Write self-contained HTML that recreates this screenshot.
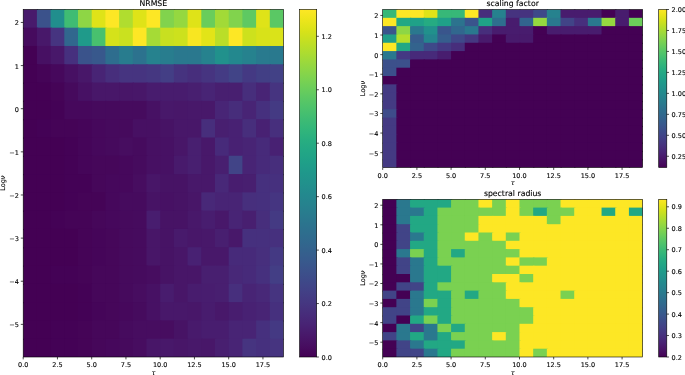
<!DOCTYPE html>
<html><head><meta charset="utf-8"><title>figure</title>
<style>
html,body{margin:0;padding:0;background:#fff;}
svg{display:block;font-family:"DejaVu Sans","Liberation Sans",sans-serif;fill:#000;}
text{stroke:#000;stroke-width:0.12px;}
</style></head><body>
<svg width="685" height="375" viewBox="0 0 685 375">
<rect width="685" height="375" fill="#fff"/>
<g clip-path="none"><rect x="23.20" y="9.40" width="14.90" height="19.49" fill="#481a6c"/><rect x="36.90" y="9.40" width="14.90" height="19.49" fill="#3b528b"/><rect x="50.60" y="9.40" width="14.90" height="19.49" fill="#218e8d"/><rect x="64.30" y="9.40" width="14.90" height="19.49" fill="#3fbc73"/><rect x="78.00" y="9.40" width="14.90" height="19.49" fill="#8ed645"/><rect x="91.70" y="9.40" width="14.90" height="19.49" fill="#dfe318"/><rect x="105.40" y="9.40" width="14.90" height="19.49" fill="#fde725"/><rect x="119.10" y="9.40" width="14.90" height="19.49" fill="#b0dd2f"/><rect x="132.80" y="9.40" width="14.90" height="19.49" fill="#dfe318"/><rect x="146.50" y="9.40" width="14.90" height="19.49" fill="#fde725"/><rect x="160.20" y="9.40" width="14.90" height="19.49" fill="#81d34d"/><rect x="173.90" y="9.40" width="14.90" height="19.49" fill="#95d840"/><rect x="187.60" y="9.40" width="14.90" height="19.49" fill="#dfe318"/><rect x="201.30" y="9.40" width="14.90" height="19.49" fill="#69cd5b"/><rect x="215.00" y="9.40" width="14.90" height="19.49" fill="#a2da37"/><rect x="228.70" y="9.40" width="14.90" height="19.49" fill="#81d34d"/><rect x="242.40" y="9.40" width="14.90" height="19.49" fill="#5ec962"/><rect x="256.10" y="9.40" width="14.90" height="19.49" fill="#dfe318"/><rect x="269.80" y="9.40" width="13.70" height="19.49" fill="#5ac864"/><rect x="23.20" y="27.69" width="14.90" height="19.49" fill="#460b5e"/><rect x="36.90" y="27.69" width="14.90" height="19.49" fill="#48186a"/><rect x="50.60" y="27.69" width="14.90" height="19.49" fill="#463480"/><rect x="64.30" y="27.69" width="14.90" height="19.49" fill="#31678e"/><rect x="78.00" y="27.69" width="14.90" height="19.49" fill="#1f9a8a"/><rect x="91.70" y="27.69" width="14.90" height="19.49" fill="#48c16e"/><rect x="105.40" y="27.69" width="14.90" height="19.49" fill="#d5e21a"/><rect x="119.10" y="27.69" width="14.90" height="19.49" fill="#cae11f"/><rect x="132.80" y="27.69" width="14.90" height="19.49" fill="#fde725"/><rect x="146.50" y="27.69" width="14.90" height="19.49" fill="#a5db36"/><rect x="160.20" y="27.69" width="14.90" height="19.49" fill="#c8e020"/><rect x="173.90" y="27.69" width="14.90" height="19.49" fill="#cde11d"/><rect x="187.60" y="27.69" width="14.90" height="19.49" fill="#f8e621"/><rect x="201.30" y="27.69" width="14.90" height="19.49" fill="#e2e418"/><rect x="215.00" y="27.69" width="14.90" height="19.49" fill="#bade28"/><rect x="228.70" y="27.69" width="14.90" height="19.49" fill="#fde725"/><rect x="242.40" y="27.69" width="14.90" height="19.49" fill="#cde11d"/><rect x="256.10" y="27.69" width="14.90" height="19.49" fill="#d8e219"/><rect x="269.80" y="27.69" width="13.70" height="19.49" fill="#dae319"/><rect x="23.20" y="45.99" width="14.90" height="19.49" fill="#440154"/><rect x="36.90" y="45.99" width="14.90" height="19.49" fill="#471063"/><rect x="50.60" y="45.99" width="14.90" height="19.49" fill="#48186a"/><rect x="64.30" y="45.99" width="14.90" height="19.49" fill="#46307e"/><rect x="78.00" y="45.99" width="14.90" height="19.49" fill="#3a538b"/><rect x="91.70" y="45.99" width="14.90" height="19.49" fill="#38588c"/><rect x="105.40" y="45.99" width="14.90" height="19.49" fill="#2e6d8e"/><rect x="119.10" y="45.99" width="14.90" height="19.49" fill="#287c8e"/><rect x="132.80" y="45.99" width="14.90" height="19.49" fill="#2c728e"/><rect x="146.50" y="45.99" width="14.90" height="19.49" fill="#26828e"/><rect x="160.20" y="45.99" width="14.90" height="19.49" fill="#287d8e"/><rect x="173.90" y="45.99" width="14.90" height="19.49" fill="#2a788e"/><rect x="187.60" y="45.99" width="14.90" height="19.49" fill="#2a788e"/><rect x="201.30" y="45.99" width="14.90" height="19.49" fill="#26828e"/><rect x="215.00" y="45.99" width="14.90" height="19.49" fill="#21918c"/><rect x="228.70" y="45.99" width="14.90" height="19.49" fill="#23888e"/><rect x="242.40" y="45.99" width="14.90" height="19.49" fill="#26828e"/><rect x="256.10" y="45.99" width="14.90" height="19.49" fill="#297a8e"/><rect x="269.80" y="45.99" width="13.70" height="19.49" fill="#29798e"/><rect x="23.20" y="64.28" width="14.90" height="19.49" fill="#440154"/><rect x="36.90" y="64.28" width="14.90" height="19.49" fill="#450457"/><rect x="50.60" y="64.28" width="14.90" height="19.49" fill="#46085c"/><rect x="64.30" y="64.28" width="14.90" height="19.49" fill="#471063"/><rect x="78.00" y="64.28" width="14.90" height="19.49" fill="#481769"/><rect x="91.70" y="64.28" width="14.90" height="19.49" fill="#482475"/><rect x="105.40" y="64.28" width="14.90" height="19.49" fill="#472e7c"/><rect x="119.10" y="64.28" width="14.90" height="19.49" fill="#463480"/><rect x="132.80" y="64.28" width="14.90" height="19.49" fill="#463480"/><rect x="146.50" y="64.28" width="14.90" height="19.49" fill="#453781"/><rect x="160.20" y="64.28" width="14.90" height="19.49" fill="#433e85"/><rect x="173.90" y="64.28" width="14.90" height="19.49" fill="#46337f"/><rect x="187.60" y="64.28" width="14.90" height="19.49" fill="#472e7c"/><rect x="201.30" y="64.28" width="14.90" height="19.49" fill="#463480"/><rect x="215.00" y="64.28" width="14.90" height="19.49" fill="#443b84"/><rect x="228.70" y="64.28" width="14.90" height="19.49" fill="#414487"/><rect x="242.40" y="64.28" width="14.90" height="19.49" fill="#443983"/><rect x="256.10" y="64.28" width="14.90" height="19.49" fill="#423f85"/><rect x="269.80" y="64.28" width="13.70" height="19.49" fill="#424186"/><rect x="23.20" y="82.58" width="14.90" height="19.49" fill="#440154"/><rect x="36.90" y="82.58" width="14.90" height="19.49" fill="#440154"/><rect x="50.60" y="82.58" width="14.90" height="19.49" fill="#450457"/><rect x="64.30" y="82.58" width="14.90" height="19.49" fill="#460a5d"/><rect x="78.00" y="82.58" width="14.90" height="19.49" fill="#471164"/><rect x="91.70" y="82.58" width="14.90" height="19.49" fill="#481769"/><rect x="105.40" y="82.58" width="14.90" height="19.49" fill="#481769"/><rect x="119.10" y="82.58" width="14.90" height="19.49" fill="#481668"/><rect x="132.80" y="82.58" width="14.90" height="19.49" fill="#481769"/><rect x="146.50" y="82.58" width="14.90" height="19.49" fill="#481c6e"/><rect x="160.20" y="82.58" width="14.90" height="19.49" fill="#481c6e"/><rect x="173.90" y="82.58" width="14.90" height="19.49" fill="#481c6e"/><rect x="187.60" y="82.58" width="14.90" height="19.49" fill="#481f70"/><rect x="201.30" y="82.58" width="14.90" height="19.49" fill="#482475"/><rect x="215.00" y="82.58" width="14.90" height="19.49" fill="#481f70"/><rect x="228.70" y="82.58" width="14.90" height="19.49" fill="#481f70"/><rect x="242.40" y="82.58" width="14.90" height="19.49" fill="#472e7c"/><rect x="256.10" y="82.58" width="14.90" height="19.49" fill="#482475"/><rect x="269.80" y="82.58" width="13.70" height="19.49" fill="#463480"/><rect x="23.20" y="100.87" width="14.90" height="19.49" fill="#440154"/><rect x="36.90" y="100.87" width="14.90" height="19.49" fill="#440154"/><rect x="50.60" y="100.87" width="14.90" height="19.49" fill="#440256"/><rect x="64.30" y="100.87" width="14.90" height="19.49" fill="#46085c"/><rect x="78.00" y="100.87" width="14.90" height="19.49" fill="#46085c"/><rect x="91.70" y="100.87" width="14.90" height="19.49" fill="#460a5d"/><rect x="105.40" y="100.87" width="14.90" height="19.49" fill="#460a5d"/><rect x="119.10" y="100.87" width="14.90" height="19.49" fill="#460b5e"/><rect x="132.80" y="100.87" width="14.90" height="19.49" fill="#460b5e"/><rect x="146.50" y="100.87" width="14.90" height="19.49" fill="#471164"/><rect x="160.20" y="100.87" width="14.90" height="19.49" fill="#48186a"/><rect x="173.90" y="100.87" width="14.90" height="19.49" fill="#481769"/><rect x="187.60" y="100.87" width="14.90" height="19.49" fill="#48186a"/><rect x="201.30" y="100.87" width="14.90" height="19.49" fill="#48186a"/><rect x="215.00" y="100.87" width="14.90" height="19.49" fill="#482576"/><rect x="228.70" y="100.87" width="14.90" height="19.49" fill="#472d7b"/><rect x="242.40" y="100.87" width="14.90" height="19.49" fill="#482475"/><rect x="256.10" y="100.87" width="14.90" height="19.49" fill="#46307e"/><rect x="269.80" y="100.87" width="13.70" height="19.49" fill="#443a83"/><rect x="23.20" y="119.17" width="14.90" height="19.49" fill="#440154"/><rect x="36.90" y="119.17" width="14.90" height="19.49" fill="#440256"/><rect x="50.60" y="119.17" width="14.90" height="19.49" fill="#450457"/><rect x="64.30" y="119.17" width="14.90" height="19.49" fill="#450457"/><rect x="78.00" y="119.17" width="14.90" height="19.49" fill="#450559"/><rect x="91.70" y="119.17" width="14.90" height="19.49" fill="#46085c"/><rect x="105.40" y="119.17" width="14.90" height="19.49" fill="#460a5d"/><rect x="119.10" y="119.17" width="14.90" height="19.49" fill="#460a5d"/><rect x="132.80" y="119.17" width="14.90" height="19.49" fill="#471063"/><rect x="146.50" y="119.17" width="14.90" height="19.49" fill="#471063"/><rect x="160.20" y="119.17" width="14.90" height="19.49" fill="#471365"/><rect x="173.90" y="119.17" width="14.90" height="19.49" fill="#481769"/><rect x="187.60" y="119.17" width="14.90" height="19.49" fill="#481769"/><rect x="201.30" y="119.17" width="14.90" height="19.49" fill="#472e7c"/><rect x="215.00" y="119.17" width="14.90" height="19.49" fill="#481f70"/><rect x="228.70" y="119.17" width="14.90" height="19.49" fill="#482173"/><rect x="242.40" y="119.17" width="14.90" height="19.49" fill="#472e7c"/><rect x="256.10" y="119.17" width="14.90" height="19.49" fill="#482173"/><rect x="269.80" y="119.17" width="13.70" height="19.49" fill="#472f7d"/><rect x="23.20" y="137.46" width="14.90" height="19.49" fill="#440154"/><rect x="36.90" y="137.46" width="14.90" height="19.49" fill="#440154"/><rect x="50.60" y="137.46" width="14.90" height="19.49" fill="#440154"/><rect x="64.30" y="137.46" width="14.90" height="19.49" fill="#440256"/><rect x="78.00" y="137.46" width="14.90" height="19.49" fill="#450559"/><rect x="91.70" y="137.46" width="14.90" height="19.49" fill="#46085c"/><rect x="105.40" y="137.46" width="14.90" height="19.49" fill="#460a5d"/><rect x="119.10" y="137.46" width="14.90" height="19.49" fill="#470d60"/><rect x="132.80" y="137.46" width="14.90" height="19.49" fill="#460b5e"/><rect x="146.50" y="137.46" width="14.90" height="19.49" fill="#471063"/><rect x="160.20" y="137.46" width="14.90" height="19.49" fill="#471164"/><rect x="173.90" y="137.46" width="14.90" height="19.49" fill="#481668"/><rect x="187.60" y="137.46" width="14.90" height="19.49" fill="#481f70"/><rect x="201.30" y="137.46" width="14.90" height="19.49" fill="#48186a"/><rect x="215.00" y="137.46" width="14.90" height="19.49" fill="#472a7a"/><rect x="228.70" y="137.46" width="14.90" height="19.49" fill="#482173"/><rect x="242.40" y="137.46" width="14.90" height="19.49" fill="#482475"/><rect x="256.10" y="137.46" width="14.90" height="19.49" fill="#472a7a"/><rect x="269.80" y="137.46" width="13.70" height="19.49" fill="#482173"/><rect x="23.20" y="155.76" width="14.90" height="19.49" fill="#440154"/><rect x="36.90" y="155.76" width="14.90" height="19.49" fill="#440154"/><rect x="50.60" y="155.76" width="14.90" height="19.49" fill="#440154"/><rect x="64.30" y="155.76" width="14.90" height="19.49" fill="#440256"/><rect x="78.00" y="155.76" width="14.90" height="19.49" fill="#450559"/><rect x="91.70" y="155.76" width="14.90" height="19.49" fill="#46075a"/><rect x="105.40" y="155.76" width="14.90" height="19.49" fill="#46075a"/><rect x="119.10" y="155.76" width="14.90" height="19.49" fill="#46085c"/><rect x="132.80" y="155.76" width="14.90" height="19.49" fill="#460b5e"/><rect x="146.50" y="155.76" width="14.90" height="19.49" fill="#471063"/><rect x="160.20" y="155.76" width="14.90" height="19.49" fill="#471164"/><rect x="173.90" y="155.76" width="14.90" height="19.49" fill="#481a6c"/><rect x="187.60" y="155.76" width="14.90" height="19.49" fill="#481f70"/><rect x="201.30" y="155.76" width="14.90" height="19.49" fill="#48186a"/><rect x="215.00" y="155.76" width="14.90" height="19.49" fill="#481f70"/><rect x="228.70" y="155.76" width="14.90" height="19.49" fill="#414487"/><rect x="242.40" y="155.76" width="14.90" height="19.49" fill="#482475"/><rect x="256.10" y="155.76" width="14.90" height="19.49" fill="#472a7a"/><rect x="269.80" y="155.76" width="13.70" height="19.49" fill="#472e7c"/><rect x="23.20" y="174.05" width="14.90" height="19.49" fill="#440154"/><rect x="36.90" y="174.05" width="14.90" height="19.49" fill="#440154"/><rect x="50.60" y="174.05" width="14.90" height="19.49" fill="#440154"/><rect x="64.30" y="174.05" width="14.90" height="19.49" fill="#440256"/><rect x="78.00" y="174.05" width="14.90" height="19.49" fill="#440256"/><rect x="91.70" y="174.05" width="14.90" height="19.49" fill="#46075a"/><rect x="105.40" y="174.05" width="14.90" height="19.49" fill="#46085c"/><rect x="119.10" y="174.05" width="14.90" height="19.49" fill="#46085c"/><rect x="132.80" y="174.05" width="14.90" height="19.49" fill="#470d60"/><rect x="146.50" y="174.05" width="14.90" height="19.49" fill="#481668"/><rect x="160.20" y="174.05" width="14.90" height="19.49" fill="#471365"/><rect x="173.90" y="174.05" width="14.90" height="19.49" fill="#471365"/><rect x="187.60" y="174.05" width="14.90" height="19.49" fill="#48186a"/><rect x="201.30" y="174.05" width="14.90" height="19.49" fill="#48186a"/><rect x="215.00" y="174.05" width="14.90" height="19.49" fill="#482878"/><rect x="228.70" y="174.05" width="14.90" height="19.49" fill="#481d6f"/><rect x="242.40" y="174.05" width="14.90" height="19.49" fill="#481f70"/><rect x="256.10" y="174.05" width="14.90" height="19.49" fill="#46307e"/><rect x="269.80" y="174.05" width="13.70" height="19.49" fill="#46307e"/><rect x="23.20" y="192.35" width="14.90" height="19.49" fill="#440154"/><rect x="36.90" y="192.35" width="14.90" height="19.49" fill="#440154"/><rect x="50.60" y="192.35" width="14.90" height="19.49" fill="#440154"/><rect x="64.30" y="192.35" width="14.90" height="19.49" fill="#440256"/><rect x="78.00" y="192.35" width="14.90" height="19.49" fill="#450457"/><rect x="91.70" y="192.35" width="14.90" height="19.49" fill="#450457"/><rect x="105.40" y="192.35" width="14.90" height="19.49" fill="#46085c"/><rect x="119.10" y="192.35" width="14.90" height="19.49" fill="#460b5e"/><rect x="132.80" y="192.35" width="14.90" height="19.49" fill="#460b5e"/><rect x="146.50" y="192.35" width="14.90" height="19.49" fill="#471365"/><rect x="160.20" y="192.35" width="14.90" height="19.49" fill="#471164"/><rect x="173.90" y="192.35" width="14.90" height="19.49" fill="#471365"/><rect x="187.60" y="192.35" width="14.90" height="19.49" fill="#481668"/><rect x="201.30" y="192.35" width="14.90" height="19.49" fill="#482878"/><rect x="215.00" y="192.35" width="14.90" height="19.49" fill="#482475"/><rect x="228.70" y="192.35" width="14.90" height="19.49" fill="#482475"/><rect x="242.40" y="192.35" width="14.90" height="19.49" fill="#472f7d"/><rect x="256.10" y="192.35" width="14.90" height="19.49" fill="#46307e"/><rect x="269.80" y="192.35" width="13.70" height="19.49" fill="#453581"/><rect x="23.20" y="210.64" width="14.90" height="19.49" fill="#440154"/><rect x="36.90" y="210.64" width="14.90" height="19.49" fill="#440154"/><rect x="50.60" y="210.64" width="14.90" height="19.49" fill="#440256"/><rect x="64.30" y="210.64" width="14.90" height="19.49" fill="#450457"/><rect x="78.00" y="210.64" width="14.90" height="19.49" fill="#450457"/><rect x="91.70" y="210.64" width="14.90" height="19.49" fill="#46075a"/><rect x="105.40" y="210.64" width="14.90" height="19.49" fill="#46085c"/><rect x="119.10" y="210.64" width="14.90" height="19.49" fill="#460a5d"/><rect x="132.80" y="210.64" width="14.90" height="19.49" fill="#460b5e"/><rect x="146.50" y="210.64" width="14.90" height="19.49" fill="#481d6f"/><rect x="160.20" y="210.64" width="14.90" height="19.49" fill="#471365"/><rect x="173.90" y="210.64" width="14.90" height="19.49" fill="#471365"/><rect x="187.60" y="210.64" width="14.90" height="19.49" fill="#48186a"/><rect x="201.30" y="210.64" width="14.90" height="19.49" fill="#481d6f"/><rect x="215.00" y="210.64" width="14.90" height="19.49" fill="#48186a"/><rect x="228.70" y="210.64" width="14.90" height="19.49" fill="#482475"/><rect x="242.40" y="210.64" width="14.90" height="19.49" fill="#481f70"/><rect x="256.10" y="210.64" width="14.90" height="19.49" fill="#472e7c"/><rect x="269.80" y="210.64" width="13.70" height="19.49" fill="#443a83"/><rect x="23.20" y="228.94" width="14.90" height="19.49" fill="#440154"/><rect x="36.90" y="228.94" width="14.90" height="19.49" fill="#440154"/><rect x="50.60" y="228.94" width="14.90" height="19.49" fill="#440154"/><rect x="64.30" y="228.94" width="14.90" height="19.49" fill="#440154"/><rect x="78.00" y="228.94" width="14.90" height="19.49" fill="#450457"/><rect x="91.70" y="228.94" width="14.90" height="19.49" fill="#450559"/><rect x="105.40" y="228.94" width="14.90" height="19.49" fill="#46075a"/><rect x="119.10" y="228.94" width="14.90" height="19.49" fill="#460a5d"/><rect x="132.80" y="228.94" width="14.90" height="19.49" fill="#460b5e"/><rect x="146.50" y="228.94" width="14.90" height="19.49" fill="#481668"/><rect x="160.20" y="228.94" width="14.90" height="19.49" fill="#471365"/><rect x="173.90" y="228.94" width="14.90" height="19.49" fill="#481a6c"/><rect x="187.60" y="228.94" width="14.90" height="19.49" fill="#481769"/><rect x="201.30" y="228.94" width="14.90" height="19.49" fill="#48186a"/><rect x="215.00" y="228.94" width="14.90" height="19.49" fill="#481f70"/><rect x="228.70" y="228.94" width="14.90" height="19.49" fill="#48186a"/><rect x="242.40" y="228.94" width="14.90" height="19.49" fill="#46307e"/><rect x="256.10" y="228.94" width="14.90" height="19.49" fill="#46307e"/><rect x="269.80" y="228.94" width="13.70" height="19.49" fill="#46307e"/><rect x="23.20" y="247.23" width="14.90" height="19.49" fill="#440154"/><rect x="36.90" y="247.23" width="14.90" height="19.49" fill="#440154"/><rect x="50.60" y="247.23" width="14.90" height="19.49" fill="#440154"/><rect x="64.30" y="247.23" width="14.90" height="19.49" fill="#440154"/><rect x="78.00" y="247.23" width="14.90" height="19.49" fill="#450457"/><rect x="91.70" y="247.23" width="14.90" height="19.49" fill="#450559"/><rect x="105.40" y="247.23" width="14.90" height="19.49" fill="#46075a"/><rect x="119.10" y="247.23" width="14.90" height="19.49" fill="#460a5d"/><rect x="132.80" y="247.23" width="14.90" height="19.49" fill="#460b5e"/><rect x="146.50" y="247.23" width="14.90" height="19.49" fill="#481668"/><rect x="160.20" y="247.23" width="14.90" height="19.49" fill="#471365"/><rect x="173.90" y="247.23" width="14.90" height="19.49" fill="#481668"/><rect x="187.60" y="247.23" width="14.90" height="19.49" fill="#482173"/><rect x="201.30" y="247.23" width="14.90" height="19.49" fill="#48186a"/><rect x="215.00" y="247.23" width="14.90" height="19.49" fill="#48186a"/><rect x="228.70" y="247.23" width="14.90" height="19.49" fill="#472a7a"/><rect x="242.40" y="247.23" width="14.90" height="19.49" fill="#472a7a"/><rect x="256.10" y="247.23" width="14.90" height="19.49" fill="#472f7d"/><rect x="269.80" y="247.23" width="13.70" height="19.49" fill="#443983"/><rect x="23.20" y="265.53" width="14.90" height="19.49" fill="#440154"/><rect x="36.90" y="265.53" width="14.90" height="19.49" fill="#440154"/><rect x="50.60" y="265.53" width="14.90" height="19.49" fill="#440256"/><rect x="64.30" y="265.53" width="14.90" height="19.49" fill="#440256"/><rect x="78.00" y="265.53" width="14.90" height="19.49" fill="#450457"/><rect x="91.70" y="265.53" width="14.90" height="19.49" fill="#46075a"/><rect x="105.40" y="265.53" width="14.90" height="19.49" fill="#46075a"/><rect x="119.10" y="265.53" width="14.90" height="19.49" fill="#460a5d"/><rect x="132.80" y="265.53" width="14.90" height="19.49" fill="#460b5e"/><rect x="146.50" y="265.53" width="14.90" height="19.49" fill="#470d60"/><rect x="160.20" y="265.53" width="14.90" height="19.49" fill="#471365"/><rect x="173.90" y="265.53" width="14.90" height="19.49" fill="#481668"/><rect x="187.60" y="265.53" width="14.90" height="19.49" fill="#481668"/><rect x="201.30" y="265.53" width="14.90" height="19.49" fill="#481f70"/><rect x="215.00" y="265.53" width="14.90" height="19.49" fill="#481f70"/><rect x="228.70" y="265.53" width="14.90" height="19.49" fill="#482878"/><rect x="242.40" y="265.53" width="14.90" height="19.49" fill="#472a7a"/><rect x="256.10" y="265.53" width="14.90" height="19.49" fill="#46307e"/><rect x="269.80" y="265.53" width="13.70" height="19.49" fill="#433e85"/><rect x="23.20" y="283.82" width="14.90" height="19.49" fill="#440154"/><rect x="36.90" y="283.82" width="14.90" height="19.49" fill="#440154"/><rect x="50.60" y="283.82" width="14.90" height="19.49" fill="#440154"/><rect x="64.30" y="283.82" width="14.90" height="19.49" fill="#440154"/><rect x="78.00" y="283.82" width="14.90" height="19.49" fill="#440256"/><rect x="91.70" y="283.82" width="14.90" height="19.49" fill="#46075a"/><rect x="105.40" y="283.82" width="14.90" height="19.49" fill="#46075a"/><rect x="119.10" y="283.82" width="14.90" height="19.49" fill="#460a5d"/><rect x="132.80" y="283.82" width="14.90" height="19.49" fill="#470d60"/><rect x="146.50" y="283.82" width="14.90" height="19.49" fill="#471164"/><rect x="160.20" y="283.82" width="14.90" height="19.49" fill="#481c6e"/><rect x="173.90" y="283.82" width="14.90" height="19.49" fill="#481668"/><rect x="187.60" y="283.82" width="14.90" height="19.49" fill="#481c6e"/><rect x="201.30" y="283.82" width="14.90" height="19.49" fill="#481d6f"/><rect x="215.00" y="283.82" width="14.90" height="19.49" fill="#481f70"/><rect x="228.70" y="283.82" width="14.90" height="19.49" fill="#472f7d"/><rect x="242.40" y="283.82" width="14.90" height="19.49" fill="#482475"/><rect x="256.10" y="283.82" width="14.90" height="19.49" fill="#482878"/><rect x="269.80" y="283.82" width="13.70" height="19.49" fill="#463480"/><rect x="23.20" y="302.12" width="14.90" height="19.49" fill="#440154"/><rect x="36.90" y="302.12" width="14.90" height="19.49" fill="#440154"/><rect x="50.60" y="302.12" width="14.90" height="19.49" fill="#440154"/><rect x="64.30" y="302.12" width="14.90" height="19.49" fill="#440154"/><rect x="78.00" y="302.12" width="14.90" height="19.49" fill="#440256"/><rect x="91.70" y="302.12" width="14.90" height="19.49" fill="#450559"/><rect x="105.40" y="302.12" width="14.90" height="19.49" fill="#46075a"/><rect x="119.10" y="302.12" width="14.90" height="19.49" fill="#46085c"/><rect x="132.80" y="302.12" width="14.90" height="19.49" fill="#460b5e"/><rect x="146.50" y="302.12" width="14.90" height="19.49" fill="#471164"/><rect x="160.20" y="302.12" width="14.90" height="19.49" fill="#48186a"/><rect x="173.90" y="302.12" width="14.90" height="19.49" fill="#48186a"/><rect x="187.60" y="302.12" width="14.90" height="19.49" fill="#481769"/><rect x="201.30" y="302.12" width="14.90" height="19.49" fill="#481c6e"/><rect x="215.00" y="302.12" width="14.90" height="19.49" fill="#48186a"/><rect x="228.70" y="302.12" width="14.90" height="19.49" fill="#481d6f"/><rect x="242.40" y="302.12" width="14.90" height="19.49" fill="#482173"/><rect x="256.10" y="302.12" width="14.90" height="19.49" fill="#482475"/><rect x="269.80" y="302.12" width="13.70" height="19.49" fill="#46307e"/><rect x="23.20" y="320.41" width="14.90" height="19.49" fill="#440154"/><rect x="36.90" y="320.41" width="14.90" height="19.49" fill="#440154"/><rect x="50.60" y="320.41" width="14.90" height="19.49" fill="#440256"/><rect x="64.30" y="320.41" width="14.90" height="19.49" fill="#440256"/><rect x="78.00" y="320.41" width="14.90" height="19.49" fill="#450457"/><rect x="91.70" y="320.41" width="14.90" height="19.49" fill="#46075a"/><rect x="105.40" y="320.41" width="14.90" height="19.49" fill="#46075a"/><rect x="119.10" y="320.41" width="14.90" height="19.49" fill="#460b5e"/><rect x="132.80" y="320.41" width="14.90" height="19.49" fill="#470d60"/><rect x="146.50" y="320.41" width="14.90" height="19.49" fill="#470d60"/><rect x="160.20" y="320.41" width="14.90" height="19.49" fill="#470d60"/><rect x="173.90" y="320.41" width="14.90" height="19.49" fill="#471365"/><rect x="187.60" y="320.41" width="14.90" height="19.49" fill="#481a6c"/><rect x="201.30" y="320.41" width="14.90" height="19.49" fill="#481d6f"/><rect x="215.00" y="320.41" width="14.90" height="19.49" fill="#481d6f"/><rect x="228.70" y="320.41" width="14.90" height="19.49" fill="#482475"/><rect x="242.40" y="320.41" width="14.90" height="19.49" fill="#482475"/><rect x="256.10" y="320.41" width="14.90" height="19.49" fill="#46307e"/><rect x="269.80" y="320.41" width="13.70" height="19.49" fill="#443983"/><rect x="23.20" y="338.71" width="14.90" height="18.29" fill="#440154"/><rect x="36.90" y="338.71" width="14.90" height="18.29" fill="#440154"/><rect x="50.60" y="338.71" width="14.90" height="18.29" fill="#440256"/><rect x="64.30" y="338.71" width="14.90" height="18.29" fill="#440256"/><rect x="78.00" y="338.71" width="14.90" height="18.29" fill="#450457"/><rect x="91.70" y="338.71" width="14.90" height="18.29" fill="#46075a"/><rect x="105.40" y="338.71" width="14.90" height="18.29" fill="#46085c"/><rect x="119.10" y="338.71" width="14.90" height="18.29" fill="#460a5d"/><rect x="132.80" y="338.71" width="14.90" height="18.29" fill="#470d60"/><rect x="146.50" y="338.71" width="14.90" height="18.29" fill="#481668"/><rect x="160.20" y="338.71" width="14.90" height="18.29" fill="#48186a"/><rect x="173.90" y="338.71" width="14.90" height="18.29" fill="#481668"/><rect x="187.60" y="338.71" width="14.90" height="18.29" fill="#48186a"/><rect x="201.30" y="338.71" width="14.90" height="18.29" fill="#481769"/><rect x="215.00" y="338.71" width="14.90" height="18.29" fill="#481f70"/><rect x="228.70" y="338.71" width="14.90" height="18.29" fill="#482475"/><rect x="242.40" y="338.71" width="14.90" height="18.29" fill="#463480"/><rect x="256.10" y="338.71" width="14.90" height="18.29" fill="#46307e"/><rect x="269.80" y="338.71" width="13.70" height="18.29" fill="#463480"/></g><rect x="23.20" y="9.40" width="260.30" height="347.60" fill="none" stroke="#000" stroke-width="0.6"/><line x1="23.20" y1="357.00" x2="23.20" y2="359.40" stroke="#000" stroke-width="0.7"/><text x="23.20" y="367.00" text-anchor="middle" font-size="6.5">0.0</text><line x1="57.45" y1="357.00" x2="57.45" y2="359.40" stroke="#000" stroke-width="0.7"/><text x="57.45" y="367.00" text-anchor="middle" font-size="6.5">2.5</text><line x1="91.70" y1="357.00" x2="91.70" y2="359.40" stroke="#000" stroke-width="0.7"/><text x="91.70" y="367.00" text-anchor="middle" font-size="6.5">5.0</text><line x1="125.95" y1="357.00" x2="125.95" y2="359.40" stroke="#000" stroke-width="0.7"/><text x="125.95" y="367.00" text-anchor="middle" font-size="6.5">7.5</text><line x1="160.20" y1="357.00" x2="160.20" y2="359.40" stroke="#000" stroke-width="0.7"/><text x="160.20" y="367.00" text-anchor="middle" font-size="6.5">10.0</text><line x1="194.45" y1="357.00" x2="194.45" y2="359.40" stroke="#000" stroke-width="0.7"/><text x="194.45" y="367.00" text-anchor="middle" font-size="6.5">12.5</text><line x1="228.70" y1="357.00" x2="228.70" y2="359.40" stroke="#000" stroke-width="0.7"/><text x="228.70" y="367.00" text-anchor="middle" font-size="6.5">15.0</text><line x1="262.95" y1="357.00" x2="262.95" y2="359.40" stroke="#000" stroke-width="0.7"/><text x="262.95" y="367.00" text-anchor="middle" font-size="6.5">17.5</text><line x1="23.20" y1="22.45" x2="20.80" y2="22.45" stroke="#000" stroke-width="0.7"/><text x="18.90" y="25.45" text-anchor="end" font-size="6.5">2</text><line x1="23.20" y1="65.58" x2="20.80" y2="65.58" stroke="#000" stroke-width="0.7"/><text x="18.90" y="68.58" text-anchor="end" font-size="6.5">1</text><line x1="23.20" y1="108.71" x2="20.80" y2="108.71" stroke="#000" stroke-width="0.7"/><text x="18.90" y="111.71" text-anchor="end" font-size="6.5">0</text><line x1="23.20" y1="151.85" x2="20.80" y2="151.85" stroke="#000" stroke-width="0.7"/><text x="18.90" y="154.85" text-anchor="end" font-size="6.5">−1</text><line x1="23.20" y1="194.98" x2="20.80" y2="194.98" stroke="#000" stroke-width="0.7"/><text x="18.90" y="197.98" text-anchor="end" font-size="6.5">−2</text><line x1="23.20" y1="238.11" x2="20.80" y2="238.11" stroke="#000" stroke-width="0.7"/><text x="18.90" y="241.11" text-anchor="end" font-size="6.5">−3</text><line x1="23.20" y1="281.24" x2="20.80" y2="281.24" stroke="#000" stroke-width="0.7"/><text x="18.90" y="284.24" text-anchor="end" font-size="6.5">−4</text><line x1="23.20" y1="324.37" x2="20.80" y2="324.37" stroke="#000" stroke-width="0.7"/><text x="18.90" y="327.37" text-anchor="end" font-size="6.5">−5</text><text x="153.35" y="6.10" text-anchor="middle" font-size="7.75">NRMSE</text><text x="153.35" y="374.90" text-anchor="middle" font-size="6.5" font-style="italic">τ</text><text transform="translate(5.00,183.20) rotate(-90)" text-anchor="middle" font-size="6.5">Log<tspan font-style="italic">ν</tspan></text><defs><linearGradient id="g1" x1="0" y1="1" x2="0" y2="0"><stop offset="0.0000" stop-color="#440154"/><stop offset="0.0312" stop-color="#470d60"/><stop offset="0.0625" stop-color="#48186a"/><stop offset="0.0938" stop-color="#482374"/><stop offset="0.1250" stop-color="#472d7b"/><stop offset="0.1562" stop-color="#453781"/><stop offset="0.1875" stop-color="#424086"/><stop offset="0.2188" stop-color="#3e4989"/><stop offset="0.2500" stop-color="#3b528b"/><stop offset="0.2812" stop-color="#375b8d"/><stop offset="0.3125" stop-color="#33638d"/><stop offset="0.3438" stop-color="#2f6b8e"/><stop offset="0.3750" stop-color="#2c728e"/><stop offset="0.4062" stop-color="#297a8e"/><stop offset="0.4375" stop-color="#26828e"/><stop offset="0.4688" stop-color="#23898e"/><stop offset="0.5000" stop-color="#21918c"/><stop offset="0.5312" stop-color="#1f988b"/><stop offset="0.5625" stop-color="#1fa088"/><stop offset="0.5938" stop-color="#22a785"/><stop offset="0.6250" stop-color="#28ae80"/><stop offset="0.6562" stop-color="#32b67a"/><stop offset="0.6875" stop-color="#3fbc73"/><stop offset="0.7188" stop-color="#4ec36b"/><stop offset="0.7500" stop-color="#5ec962"/><stop offset="0.7812" stop-color="#70cf57"/><stop offset="0.8125" stop-color="#84d44b"/><stop offset="0.8438" stop-color="#98d83e"/><stop offset="0.8750" stop-color="#addc30"/><stop offset="0.9062" stop-color="#c2df23"/><stop offset="0.9375" stop-color="#d8e219"/><stop offset="0.9688" stop-color="#ece51b"/><stop offset="1.0000" stop-color="#fde725"/></linearGradient></defs><rect x="299.60" y="9.40" width="17.10" height="347.60" fill="url(#g1)" stroke="#000" stroke-width="0.6"/><line x1="316.70" y1="357.00" x2="318.90" y2="357.00" stroke="#000" stroke-width="0.7"/><text x="321.50" y="359.60" font-size="6.5">0.0</text><line x1="316.70" y1="303.55" x2="318.90" y2="303.55" stroke="#000" stroke-width="0.7"/><text x="321.50" y="306.15" font-size="6.5">0.2</text><line x1="316.70" y1="250.10" x2="318.90" y2="250.10" stroke="#000" stroke-width="0.7"/><text x="321.50" y="252.70" font-size="6.5">0.4</text><line x1="316.70" y1="196.66" x2="318.90" y2="196.66" stroke="#000" stroke-width="0.7"/><text x="321.50" y="199.26" font-size="6.5">0.6</text><line x1="316.70" y1="143.21" x2="318.90" y2="143.21" stroke="#000" stroke-width="0.7"/><text x="321.50" y="145.81" font-size="6.5">0.8</text><line x1="316.70" y1="89.76" x2="318.90" y2="89.76" stroke="#000" stroke-width="0.7"/><text x="321.50" y="92.36" font-size="6.5">1.0</text><line x1="316.70" y1="36.31" x2="318.90" y2="36.31" stroke="#000" stroke-width="0.7"/><text x="321.50" y="38.91" font-size="6.5">1.2</text><g clip-path="none"><rect x="382.70" y="9.50" width="14.88" height="9.52" fill="#37b878"/><rect x="396.38" y="9.50" width="14.88" height="9.52" fill="#fde725"/><rect x="410.06" y="9.50" width="14.88" height="9.52" fill="#fde725"/><rect x="423.74" y="9.50" width="14.88" height="9.52" fill="#dfe318"/><rect x="437.42" y="9.50" width="14.88" height="9.52" fill="#37b878"/><rect x="451.09" y="9.50" width="14.88" height="9.52" fill="#37b878"/><rect x="464.77" y="9.50" width="14.88" height="9.52" fill="#fde725"/><rect x="478.45" y="9.50" width="14.88" height="9.52" fill="#472e7c"/><rect x="492.13" y="9.50" width="14.88" height="9.52" fill="#26828e"/><rect x="505.81" y="9.50" width="14.88" height="9.52" fill="#46337f"/><rect x="519.49" y="9.50" width="14.88" height="9.52" fill="#46337f"/><rect x="533.17" y="9.50" width="14.88" height="9.52" fill="#3e4989"/><rect x="546.85" y="9.50" width="14.88" height="9.52" fill="#26828e"/><rect x="560.53" y="9.50" width="14.88" height="9.52" fill="#481c6e"/><rect x="574.21" y="9.50" width="14.88" height="9.52" fill="#481c6e"/><rect x="587.88" y="9.50" width="14.88" height="9.52" fill="#481c6e"/><rect x="601.56" y="9.50" width="14.88" height="9.52" fill="#440154"/><rect x="615.24" y="9.50" width="14.88" height="9.52" fill="#481c6e"/><rect x="628.92" y="9.50" width="13.68" height="9.52" fill="#440154"/><rect x="382.70" y="17.82" width="14.88" height="9.52" fill="#fde725"/><rect x="396.38" y="17.82" width="14.88" height="9.52" fill="#22a884"/><rect x="410.06" y="17.82" width="14.88" height="9.52" fill="#1fa188"/><rect x="423.74" y="17.82" width="14.88" height="9.52" fill="#25ab82"/><rect x="437.42" y="17.82" width="14.88" height="9.52" fill="#1fa088"/><rect x="451.09" y="17.82" width="14.88" height="9.52" fill="#2c738e"/><rect x="464.77" y="17.82" width="14.88" height="9.52" fill="#3a548c"/><rect x="478.45" y="17.82" width="14.88" height="9.52" fill="#1fa287"/><rect x="492.13" y="17.82" width="14.88" height="9.52" fill="#2e6f8e"/><rect x="505.81" y="17.82" width="14.88" height="9.52" fill="#481c6e"/><rect x="519.49" y="17.82" width="14.88" height="9.52" fill="#32648e"/><rect x="533.17" y="17.82" width="14.88" height="9.52" fill="#95d840"/><rect x="546.85" y="17.82" width="14.88" height="9.52" fill="#2a788e"/><rect x="560.53" y="17.82" width="14.88" height="9.52" fill="#414487"/><rect x="574.21" y="17.82" width="14.88" height="9.52" fill="#472f7d"/><rect x="587.88" y="17.82" width="14.88" height="9.52" fill="#2a788e"/><rect x="601.56" y="17.82" width="14.88" height="9.52" fill="#95d840"/><rect x="615.24" y="17.82" width="14.88" height="9.52" fill="#481c6e"/><rect x="628.92" y="17.82" width="13.68" height="9.52" fill="#6ccd5a"/><rect x="382.70" y="26.13" width="14.88" height="9.52" fill="#3a548c"/><rect x="396.38" y="26.13" width="14.88" height="9.52" fill="#8ed645"/><rect x="410.06" y="26.13" width="14.88" height="9.52" fill="#2a788e"/><rect x="423.74" y="26.13" width="14.88" height="9.52" fill="#21918c"/><rect x="437.42" y="26.13" width="14.88" height="9.52" fill="#39558c"/><rect x="451.09" y="26.13" width="14.88" height="9.52" fill="#31678e"/><rect x="464.77" y="26.13" width="14.88" height="9.52" fill="#2a788e"/><rect x="478.45" y="26.13" width="14.88" height="9.52" fill="#472e7c"/><rect x="492.13" y="26.13" width="14.88" height="9.52" fill="#481c6e"/><rect x="505.81" y="26.13" width="14.88" height="9.52" fill="#481c6e"/><rect x="519.49" y="26.13" width="14.88" height="9.52" fill="#481c6e"/><rect x="533.17" y="26.13" width="14.88" height="9.52" fill="#440154"/><rect x="546.85" y="26.13" width="14.88" height="9.52" fill="#481c6e"/><rect x="560.53" y="26.13" width="14.88" height="9.52" fill="#481c6e"/><rect x="574.21" y="26.13" width="14.88" height="9.52" fill="#481c6e"/><rect x="587.88" y="26.13" width="14.88" height="9.52" fill="#481c6e"/><rect x="601.56" y="26.13" width="14.88" height="9.52" fill="#440154"/><rect x="615.24" y="26.13" width="14.88" height="9.52" fill="#440154"/><rect x="628.92" y="26.13" width="13.68" height="9.52" fill="#440154"/><rect x="382.70" y="34.45" width="14.88" height="9.52" fill="#1f9e89"/><rect x="396.38" y="34.45" width="14.88" height="9.52" fill="#b5de2b"/><rect x="410.06" y="34.45" width="14.88" height="9.52" fill="#365d8d"/><rect x="423.74" y="34.45" width="14.88" height="9.52" fill="#24868e"/><rect x="437.42" y="34.45" width="14.88" height="9.52" fill="#365d8d"/><rect x="451.09" y="34.45" width="14.88" height="9.52" fill="#3f4889"/><rect x="464.77" y="34.45" width="14.88" height="9.52" fill="#453781"/><rect x="478.45" y="34.45" width="14.88" height="9.52" fill="#481a6c"/><rect x="492.13" y="34.45" width="14.88" height="9.52" fill="#440154"/><rect x="505.81" y="34.45" width="14.88" height="9.52" fill="#481a6c"/><rect x="519.49" y="34.45" width="14.88" height="9.52" fill="#481a6c"/><rect x="533.17" y="34.45" width="14.88" height="9.52" fill="#440154"/><rect x="546.85" y="34.45" width="14.88" height="9.52" fill="#440154"/><rect x="560.53" y="34.45" width="14.88" height="9.52" fill="#440154"/><rect x="574.21" y="34.45" width="14.88" height="9.52" fill="#440154"/><rect x="587.88" y="34.45" width="14.88" height="9.52" fill="#440154"/><rect x="601.56" y="34.45" width="14.88" height="9.52" fill="#440154"/><rect x="615.24" y="34.45" width="14.88" height="9.52" fill="#440154"/><rect x="628.92" y="34.45" width="13.68" height="9.52" fill="#440154"/><rect x="382.70" y="42.76" width="14.88" height="9.52" fill="#fde725"/><rect x="396.38" y="42.76" width="14.88" height="9.52" fill="#22a884"/><rect x="410.06" y="42.76" width="14.88" height="9.52" fill="#33638d"/><rect x="423.74" y="42.76" width="14.88" height="9.52" fill="#3e4989"/><rect x="437.42" y="42.76" width="14.88" height="9.52" fill="#443983"/><rect x="451.09" y="42.76" width="14.88" height="9.52" fill="#472e7c"/><rect x="464.77" y="42.76" width="14.88" height="9.52" fill="#440154"/><rect x="478.45" y="42.76" width="14.88" height="9.52" fill="#440154"/><rect x="492.13" y="42.76" width="14.88" height="9.52" fill="#440154"/><rect x="505.81" y="42.76" width="14.88" height="9.52" fill="#440154"/><rect x="519.49" y="42.76" width="14.88" height="9.52" fill="#440154"/><rect x="533.17" y="42.76" width="14.88" height="9.52" fill="#440154"/><rect x="546.85" y="42.76" width="14.88" height="9.52" fill="#440154"/><rect x="560.53" y="42.76" width="14.88" height="9.52" fill="#440154"/><rect x="574.21" y="42.76" width="14.88" height="9.52" fill="#440154"/><rect x="587.88" y="42.76" width="14.88" height="9.52" fill="#440154"/><rect x="601.56" y="42.76" width="14.88" height="9.52" fill="#440154"/><rect x="615.24" y="42.76" width="14.88" height="9.52" fill="#440154"/><rect x="628.92" y="42.76" width="13.68" height="9.52" fill="#440154"/><rect x="382.70" y="51.08" width="14.88" height="9.52" fill="#2a788e"/><rect x="396.38" y="51.08" width="14.88" height="9.52" fill="#443983"/><rect x="410.06" y="51.08" width="14.88" height="9.52" fill="#472a7a"/><rect x="423.74" y="51.08" width="14.88" height="9.52" fill="#472a7a"/><rect x="437.42" y="51.08" width="14.88" height="9.52" fill="#481d6f"/><rect x="451.09" y="51.08" width="14.88" height="9.52" fill="#440154"/><rect x="464.77" y="51.08" width="14.88" height="9.52" fill="#440154"/><rect x="478.45" y="51.08" width="14.88" height="9.52" fill="#440154"/><rect x="492.13" y="51.08" width="14.88" height="9.52" fill="#440154"/><rect x="505.81" y="51.08" width="14.88" height="9.52" fill="#440154"/><rect x="519.49" y="51.08" width="14.88" height="9.52" fill="#440154"/><rect x="533.17" y="51.08" width="14.88" height="9.52" fill="#440154"/><rect x="546.85" y="51.08" width="14.88" height="9.52" fill="#440154"/><rect x="560.53" y="51.08" width="14.88" height="9.52" fill="#440154"/><rect x="574.21" y="51.08" width="14.88" height="9.52" fill="#440154"/><rect x="587.88" y="51.08" width="14.88" height="9.52" fill="#440154"/><rect x="601.56" y="51.08" width="14.88" height="9.52" fill="#440154"/><rect x="615.24" y="51.08" width="14.88" height="9.52" fill="#440154"/><rect x="628.92" y="51.08" width="13.68" height="9.52" fill="#440154"/><rect x="382.70" y="59.39" width="14.88" height="9.52" fill="#3c508b"/><rect x="396.38" y="59.39" width="14.88" height="9.52" fill="#3c508b"/><rect x="410.06" y="59.39" width="14.88" height="9.52" fill="#440154"/><rect x="423.74" y="59.39" width="14.88" height="9.52" fill="#440154"/><rect x="437.42" y="59.39" width="14.88" height="9.52" fill="#440154"/><rect x="451.09" y="59.39" width="14.88" height="9.52" fill="#440154"/><rect x="464.77" y="59.39" width="14.88" height="9.52" fill="#440154"/><rect x="478.45" y="59.39" width="14.88" height="9.52" fill="#440154"/><rect x="492.13" y="59.39" width="14.88" height="9.52" fill="#440154"/><rect x="505.81" y="59.39" width="14.88" height="9.52" fill="#440154"/><rect x="519.49" y="59.39" width="14.88" height="9.52" fill="#440154"/><rect x="533.17" y="59.39" width="14.88" height="9.52" fill="#440154"/><rect x="546.85" y="59.39" width="14.88" height="9.52" fill="#440154"/><rect x="560.53" y="59.39" width="14.88" height="9.52" fill="#440154"/><rect x="574.21" y="59.39" width="14.88" height="9.52" fill="#440154"/><rect x="587.88" y="59.39" width="14.88" height="9.52" fill="#440154"/><rect x="601.56" y="59.39" width="14.88" height="9.52" fill="#440154"/><rect x="615.24" y="59.39" width="14.88" height="9.52" fill="#440154"/><rect x="628.92" y="59.39" width="13.68" height="9.52" fill="#440154"/><rect x="382.70" y="67.71" width="14.88" height="9.52" fill="#3c508b"/><rect x="396.38" y="67.71" width="14.88" height="9.52" fill="#440154"/><rect x="410.06" y="67.71" width="14.88" height="9.52" fill="#440154"/><rect x="423.74" y="67.71" width="14.88" height="9.52" fill="#440154"/><rect x="437.42" y="67.71" width="14.88" height="9.52" fill="#440154"/><rect x="451.09" y="67.71" width="14.88" height="9.52" fill="#440154"/><rect x="464.77" y="67.71" width="14.88" height="9.52" fill="#440154"/><rect x="478.45" y="67.71" width="14.88" height="9.52" fill="#440154"/><rect x="492.13" y="67.71" width="14.88" height="9.52" fill="#440154"/><rect x="505.81" y="67.71" width="14.88" height="9.52" fill="#440154"/><rect x="519.49" y="67.71" width="14.88" height="9.52" fill="#440154"/><rect x="533.17" y="67.71" width="14.88" height="9.52" fill="#440154"/><rect x="546.85" y="67.71" width="14.88" height="9.52" fill="#440154"/><rect x="560.53" y="67.71" width="14.88" height="9.52" fill="#440154"/><rect x="574.21" y="67.71" width="14.88" height="9.52" fill="#440154"/><rect x="587.88" y="67.71" width="14.88" height="9.52" fill="#440154"/><rect x="601.56" y="67.71" width="14.88" height="9.52" fill="#440154"/><rect x="615.24" y="67.71" width="14.88" height="9.52" fill="#440154"/><rect x="628.92" y="67.71" width="13.68" height="9.52" fill="#440154"/><rect x="382.70" y="76.03" width="14.88" height="9.52" fill="#440154"/><rect x="396.38" y="76.03" width="14.88" height="9.52" fill="#440154"/><rect x="410.06" y="76.03" width="14.88" height="9.52" fill="#440154"/><rect x="423.74" y="76.03" width="14.88" height="9.52" fill="#440154"/><rect x="437.42" y="76.03" width="14.88" height="9.52" fill="#440154"/><rect x="451.09" y="76.03" width="14.88" height="9.52" fill="#440154"/><rect x="464.77" y="76.03" width="14.88" height="9.52" fill="#440154"/><rect x="478.45" y="76.03" width="14.88" height="9.52" fill="#440154"/><rect x="492.13" y="76.03" width="14.88" height="9.52" fill="#440154"/><rect x="505.81" y="76.03" width="14.88" height="9.52" fill="#440154"/><rect x="519.49" y="76.03" width="14.88" height="9.52" fill="#440154"/><rect x="533.17" y="76.03" width="14.88" height="9.52" fill="#440154"/><rect x="546.85" y="76.03" width="14.88" height="9.52" fill="#440154"/><rect x="560.53" y="76.03" width="14.88" height="9.52" fill="#440154"/><rect x="574.21" y="76.03" width="14.88" height="9.52" fill="#440154"/><rect x="587.88" y="76.03" width="14.88" height="9.52" fill="#440154"/><rect x="601.56" y="76.03" width="14.88" height="9.52" fill="#440154"/><rect x="615.24" y="76.03" width="14.88" height="9.52" fill="#440154"/><rect x="628.92" y="76.03" width="13.68" height="9.52" fill="#440154"/><rect x="382.70" y="84.34" width="14.88" height="9.52" fill="#443a83"/><rect x="396.38" y="84.34" width="14.88" height="9.52" fill="#440154"/><rect x="410.06" y="84.34" width="14.88" height="9.52" fill="#440154"/><rect x="423.74" y="84.34" width="14.88" height="9.52" fill="#440154"/><rect x="437.42" y="84.34" width="14.88" height="9.52" fill="#440154"/><rect x="451.09" y="84.34" width="14.88" height="9.52" fill="#440154"/><rect x="464.77" y="84.34" width="14.88" height="9.52" fill="#440154"/><rect x="478.45" y="84.34" width="14.88" height="9.52" fill="#440154"/><rect x="492.13" y="84.34" width="14.88" height="9.52" fill="#440154"/><rect x="505.81" y="84.34" width="14.88" height="9.52" fill="#440154"/><rect x="519.49" y="84.34" width="14.88" height="9.52" fill="#440154"/><rect x="533.17" y="84.34" width="14.88" height="9.52" fill="#440154"/><rect x="546.85" y="84.34" width="14.88" height="9.52" fill="#440154"/><rect x="560.53" y="84.34" width="14.88" height="9.52" fill="#440154"/><rect x="574.21" y="84.34" width="14.88" height="9.52" fill="#440154"/><rect x="587.88" y="84.34" width="14.88" height="9.52" fill="#440154"/><rect x="601.56" y="84.34" width="14.88" height="9.52" fill="#440154"/><rect x="615.24" y="84.34" width="14.88" height="9.52" fill="#440154"/><rect x="628.92" y="84.34" width="13.68" height="9.52" fill="#440154"/><rect x="382.70" y="92.66" width="14.88" height="9.52" fill="#443a83"/><rect x="396.38" y="92.66" width="14.88" height="9.52" fill="#440154"/><rect x="410.06" y="92.66" width="14.88" height="9.52" fill="#440154"/><rect x="423.74" y="92.66" width="14.88" height="9.52" fill="#440154"/><rect x="437.42" y="92.66" width="14.88" height="9.52" fill="#440154"/><rect x="451.09" y="92.66" width="14.88" height="9.52" fill="#440154"/><rect x="464.77" y="92.66" width="14.88" height="9.52" fill="#440154"/><rect x="478.45" y="92.66" width="14.88" height="9.52" fill="#440154"/><rect x="492.13" y="92.66" width="14.88" height="9.52" fill="#440154"/><rect x="505.81" y="92.66" width="14.88" height="9.52" fill="#440154"/><rect x="519.49" y="92.66" width="14.88" height="9.52" fill="#440154"/><rect x="533.17" y="92.66" width="14.88" height="9.52" fill="#440154"/><rect x="546.85" y="92.66" width="14.88" height="9.52" fill="#440154"/><rect x="560.53" y="92.66" width="14.88" height="9.52" fill="#440154"/><rect x="574.21" y="92.66" width="14.88" height="9.52" fill="#440154"/><rect x="587.88" y="92.66" width="14.88" height="9.52" fill="#440154"/><rect x="601.56" y="92.66" width="14.88" height="9.52" fill="#440154"/><rect x="615.24" y="92.66" width="14.88" height="9.52" fill="#440154"/><rect x="628.92" y="92.66" width="13.68" height="9.52" fill="#440154"/><rect x="382.70" y="100.97" width="14.88" height="9.52" fill="#443a83"/><rect x="396.38" y="100.97" width="14.88" height="9.52" fill="#440154"/><rect x="410.06" y="100.97" width="14.88" height="9.52" fill="#440154"/><rect x="423.74" y="100.97" width="14.88" height="9.52" fill="#440154"/><rect x="437.42" y="100.97" width="14.88" height="9.52" fill="#440154"/><rect x="451.09" y="100.97" width="14.88" height="9.52" fill="#440154"/><rect x="464.77" y="100.97" width="14.88" height="9.52" fill="#440154"/><rect x="478.45" y="100.97" width="14.88" height="9.52" fill="#440154"/><rect x="492.13" y="100.97" width="14.88" height="9.52" fill="#440154"/><rect x="505.81" y="100.97" width="14.88" height="9.52" fill="#440154"/><rect x="519.49" y="100.97" width="14.88" height="9.52" fill="#440154"/><rect x="533.17" y="100.97" width="14.88" height="9.52" fill="#440154"/><rect x="546.85" y="100.97" width="14.88" height="9.52" fill="#440154"/><rect x="560.53" y="100.97" width="14.88" height="9.52" fill="#440154"/><rect x="574.21" y="100.97" width="14.88" height="9.52" fill="#440154"/><rect x="587.88" y="100.97" width="14.88" height="9.52" fill="#440154"/><rect x="601.56" y="100.97" width="14.88" height="9.52" fill="#440154"/><rect x="615.24" y="100.97" width="14.88" height="9.52" fill="#440154"/><rect x="628.92" y="100.97" width="13.68" height="9.52" fill="#440154"/><rect x="382.70" y="109.29" width="14.88" height="9.52" fill="#3e4c8a"/><rect x="396.38" y="109.29" width="14.88" height="9.52" fill="#440154"/><rect x="410.06" y="109.29" width="14.88" height="9.52" fill="#440154"/><rect x="423.74" y="109.29" width="14.88" height="9.52" fill="#440154"/><rect x="437.42" y="109.29" width="14.88" height="9.52" fill="#440154"/><rect x="451.09" y="109.29" width="14.88" height="9.52" fill="#440154"/><rect x="464.77" y="109.29" width="14.88" height="9.52" fill="#440154"/><rect x="478.45" y="109.29" width="14.88" height="9.52" fill="#440154"/><rect x="492.13" y="109.29" width="14.88" height="9.52" fill="#440154"/><rect x="505.81" y="109.29" width="14.88" height="9.52" fill="#440154"/><rect x="519.49" y="109.29" width="14.88" height="9.52" fill="#440154"/><rect x="533.17" y="109.29" width="14.88" height="9.52" fill="#440154"/><rect x="546.85" y="109.29" width="14.88" height="9.52" fill="#440154"/><rect x="560.53" y="109.29" width="14.88" height="9.52" fill="#440154"/><rect x="574.21" y="109.29" width="14.88" height="9.52" fill="#440154"/><rect x="587.88" y="109.29" width="14.88" height="9.52" fill="#440154"/><rect x="601.56" y="109.29" width="14.88" height="9.52" fill="#440154"/><rect x="615.24" y="109.29" width="14.88" height="9.52" fill="#440154"/><rect x="628.92" y="109.29" width="13.68" height="9.52" fill="#440154"/><rect x="382.70" y="117.61" width="14.88" height="9.52" fill="#443a83"/><rect x="396.38" y="117.61" width="14.88" height="9.52" fill="#440154"/><rect x="410.06" y="117.61" width="14.88" height="9.52" fill="#440154"/><rect x="423.74" y="117.61" width="14.88" height="9.52" fill="#440154"/><rect x="437.42" y="117.61" width="14.88" height="9.52" fill="#440154"/><rect x="451.09" y="117.61" width="14.88" height="9.52" fill="#440154"/><rect x="464.77" y="117.61" width="14.88" height="9.52" fill="#440154"/><rect x="478.45" y="117.61" width="14.88" height="9.52" fill="#440154"/><rect x="492.13" y="117.61" width="14.88" height="9.52" fill="#440154"/><rect x="505.81" y="117.61" width="14.88" height="9.52" fill="#440154"/><rect x="519.49" y="117.61" width="14.88" height="9.52" fill="#440154"/><rect x="533.17" y="117.61" width="14.88" height="9.52" fill="#440154"/><rect x="546.85" y="117.61" width="14.88" height="9.52" fill="#440154"/><rect x="560.53" y="117.61" width="14.88" height="9.52" fill="#440154"/><rect x="574.21" y="117.61" width="14.88" height="9.52" fill="#440154"/><rect x="587.88" y="117.61" width="14.88" height="9.52" fill="#440154"/><rect x="601.56" y="117.61" width="14.88" height="9.52" fill="#440154"/><rect x="615.24" y="117.61" width="14.88" height="9.52" fill="#440154"/><rect x="628.92" y="117.61" width="13.68" height="9.52" fill="#440154"/><rect x="382.70" y="125.92" width="14.88" height="9.52" fill="#443a83"/><rect x="396.38" y="125.92" width="14.88" height="9.52" fill="#440154"/><rect x="410.06" y="125.92" width="14.88" height="9.52" fill="#440154"/><rect x="423.74" y="125.92" width="14.88" height="9.52" fill="#440154"/><rect x="437.42" y="125.92" width="14.88" height="9.52" fill="#440154"/><rect x="451.09" y="125.92" width="14.88" height="9.52" fill="#440154"/><rect x="464.77" y="125.92" width="14.88" height="9.52" fill="#440154"/><rect x="478.45" y="125.92" width="14.88" height="9.52" fill="#440154"/><rect x="492.13" y="125.92" width="14.88" height="9.52" fill="#440154"/><rect x="505.81" y="125.92" width="14.88" height="9.52" fill="#440154"/><rect x="519.49" y="125.92" width="14.88" height="9.52" fill="#440154"/><rect x="533.17" y="125.92" width="14.88" height="9.52" fill="#440154"/><rect x="546.85" y="125.92" width="14.88" height="9.52" fill="#440154"/><rect x="560.53" y="125.92" width="14.88" height="9.52" fill="#440154"/><rect x="574.21" y="125.92" width="14.88" height="9.52" fill="#440154"/><rect x="587.88" y="125.92" width="14.88" height="9.52" fill="#440154"/><rect x="601.56" y="125.92" width="14.88" height="9.52" fill="#440154"/><rect x="615.24" y="125.92" width="14.88" height="9.52" fill="#440154"/><rect x="628.92" y="125.92" width="13.68" height="9.52" fill="#440154"/><rect x="382.70" y="134.24" width="14.88" height="9.52" fill="#443a83"/><rect x="396.38" y="134.24" width="14.88" height="9.52" fill="#440154"/><rect x="410.06" y="134.24" width="14.88" height="9.52" fill="#440154"/><rect x="423.74" y="134.24" width="14.88" height="9.52" fill="#440154"/><rect x="437.42" y="134.24" width="14.88" height="9.52" fill="#440154"/><rect x="451.09" y="134.24" width="14.88" height="9.52" fill="#440154"/><rect x="464.77" y="134.24" width="14.88" height="9.52" fill="#440154"/><rect x="478.45" y="134.24" width="14.88" height="9.52" fill="#440154"/><rect x="492.13" y="134.24" width="14.88" height="9.52" fill="#440154"/><rect x="505.81" y="134.24" width="14.88" height="9.52" fill="#440154"/><rect x="519.49" y="134.24" width="14.88" height="9.52" fill="#440154"/><rect x="533.17" y="134.24" width="14.88" height="9.52" fill="#440154"/><rect x="546.85" y="134.24" width="14.88" height="9.52" fill="#440154"/><rect x="560.53" y="134.24" width="14.88" height="9.52" fill="#440154"/><rect x="574.21" y="134.24" width="14.88" height="9.52" fill="#440154"/><rect x="587.88" y="134.24" width="14.88" height="9.52" fill="#440154"/><rect x="601.56" y="134.24" width="14.88" height="9.52" fill="#440154"/><rect x="615.24" y="134.24" width="14.88" height="9.52" fill="#440154"/><rect x="628.92" y="134.24" width="13.68" height="9.52" fill="#440154"/><rect x="382.70" y="142.55" width="14.88" height="9.52" fill="#443a83"/><rect x="396.38" y="142.55" width="14.88" height="9.52" fill="#440154"/><rect x="410.06" y="142.55" width="14.88" height="9.52" fill="#440154"/><rect x="423.74" y="142.55" width="14.88" height="9.52" fill="#440154"/><rect x="437.42" y="142.55" width="14.88" height="9.52" fill="#440154"/><rect x="451.09" y="142.55" width="14.88" height="9.52" fill="#440154"/><rect x="464.77" y="142.55" width="14.88" height="9.52" fill="#440154"/><rect x="478.45" y="142.55" width="14.88" height="9.52" fill="#440154"/><rect x="492.13" y="142.55" width="14.88" height="9.52" fill="#440154"/><rect x="505.81" y="142.55" width="14.88" height="9.52" fill="#440154"/><rect x="519.49" y="142.55" width="14.88" height="9.52" fill="#440154"/><rect x="533.17" y="142.55" width="14.88" height="9.52" fill="#440154"/><rect x="546.85" y="142.55" width="14.88" height="9.52" fill="#440154"/><rect x="560.53" y="142.55" width="14.88" height="9.52" fill="#440154"/><rect x="574.21" y="142.55" width="14.88" height="9.52" fill="#440154"/><rect x="587.88" y="142.55" width="14.88" height="9.52" fill="#440154"/><rect x="601.56" y="142.55" width="14.88" height="9.52" fill="#440154"/><rect x="615.24" y="142.55" width="14.88" height="9.52" fill="#440154"/><rect x="628.92" y="142.55" width="13.68" height="9.52" fill="#440154"/><rect x="382.70" y="150.87" width="14.88" height="9.52" fill="#443a83"/><rect x="396.38" y="150.87" width="14.88" height="9.52" fill="#440154"/><rect x="410.06" y="150.87" width="14.88" height="9.52" fill="#440154"/><rect x="423.74" y="150.87" width="14.88" height="9.52" fill="#440154"/><rect x="437.42" y="150.87" width="14.88" height="9.52" fill="#440154"/><rect x="451.09" y="150.87" width="14.88" height="9.52" fill="#440154"/><rect x="464.77" y="150.87" width="14.88" height="9.52" fill="#440154"/><rect x="478.45" y="150.87" width="14.88" height="9.52" fill="#440154"/><rect x="492.13" y="150.87" width="14.88" height="9.52" fill="#440154"/><rect x="505.81" y="150.87" width="14.88" height="9.52" fill="#440154"/><rect x="519.49" y="150.87" width="14.88" height="9.52" fill="#440154"/><rect x="533.17" y="150.87" width="14.88" height="9.52" fill="#440154"/><rect x="546.85" y="150.87" width="14.88" height="9.52" fill="#440154"/><rect x="560.53" y="150.87" width="14.88" height="9.52" fill="#440154"/><rect x="574.21" y="150.87" width="14.88" height="9.52" fill="#440154"/><rect x="587.88" y="150.87" width="14.88" height="9.52" fill="#440154"/><rect x="601.56" y="150.87" width="14.88" height="9.52" fill="#440154"/><rect x="615.24" y="150.87" width="14.88" height="9.52" fill="#440154"/><rect x="628.92" y="150.87" width="13.68" height="9.52" fill="#440154"/><rect x="382.70" y="159.18" width="14.88" height="8.32" fill="#443a83"/><rect x="396.38" y="159.18" width="14.88" height="8.32" fill="#440154"/><rect x="410.06" y="159.18" width="14.88" height="8.32" fill="#440154"/><rect x="423.74" y="159.18" width="14.88" height="8.32" fill="#440154"/><rect x="437.42" y="159.18" width="14.88" height="8.32" fill="#440154"/><rect x="451.09" y="159.18" width="14.88" height="8.32" fill="#440154"/><rect x="464.77" y="159.18" width="14.88" height="8.32" fill="#440154"/><rect x="478.45" y="159.18" width="14.88" height="8.32" fill="#440154"/><rect x="492.13" y="159.18" width="14.88" height="8.32" fill="#440154"/><rect x="505.81" y="159.18" width="14.88" height="8.32" fill="#440154"/><rect x="519.49" y="159.18" width="14.88" height="8.32" fill="#440154"/><rect x="533.17" y="159.18" width="14.88" height="8.32" fill="#440154"/><rect x="546.85" y="159.18" width="14.88" height="8.32" fill="#440154"/><rect x="560.53" y="159.18" width="14.88" height="8.32" fill="#440154"/><rect x="574.21" y="159.18" width="14.88" height="8.32" fill="#440154"/><rect x="587.88" y="159.18" width="14.88" height="8.32" fill="#440154"/><rect x="601.56" y="159.18" width="14.88" height="8.32" fill="#440154"/><rect x="615.24" y="159.18" width="14.88" height="8.32" fill="#440154"/><rect x="628.92" y="159.18" width="13.68" height="8.32" fill="#440154"/></g><rect x="382.70" y="9.50" width="259.90" height="158.00" fill="none" stroke="#000" stroke-width="0.6"/><line x1="382.70" y1="167.50" x2="382.70" y2="169.90" stroke="#000" stroke-width="0.7"/><text x="382.70" y="177.50" text-anchor="middle" font-size="6.5">0.0</text><line x1="416.90" y1="167.50" x2="416.90" y2="169.90" stroke="#000" stroke-width="0.7"/><text x="416.90" y="177.50" text-anchor="middle" font-size="6.5">2.5</text><line x1="451.09" y1="167.50" x2="451.09" y2="169.90" stroke="#000" stroke-width="0.7"/><text x="451.09" y="177.50" text-anchor="middle" font-size="6.5">5.0</text><line x1="485.29" y1="167.50" x2="485.29" y2="169.90" stroke="#000" stroke-width="0.7"/><text x="485.29" y="177.50" text-anchor="middle" font-size="6.5">7.5</text><line x1="519.49" y1="167.50" x2="519.49" y2="169.90" stroke="#000" stroke-width="0.7"/><text x="519.49" y="177.50" text-anchor="middle" font-size="6.5">10.0</text><line x1="553.69" y1="167.50" x2="553.69" y2="169.90" stroke="#000" stroke-width="0.7"/><text x="553.69" y="177.50" text-anchor="middle" font-size="6.5">12.5</text><line x1="587.88" y1="167.50" x2="587.88" y2="169.90" stroke="#000" stroke-width="0.7"/><text x="587.88" y="177.50" text-anchor="middle" font-size="6.5">15.0</text><line x1="622.08" y1="167.50" x2="622.08" y2="169.90" stroke="#000" stroke-width="0.7"/><text x="622.08" y="177.50" text-anchor="middle" font-size="6.5">17.5</text><line x1="382.70" y1="15.43" x2="380.30" y2="15.43" stroke="#000" stroke-width="0.7"/><text x="378.40" y="18.43" text-anchor="end" font-size="6.5">2</text><line x1="382.70" y1="35.04" x2="380.30" y2="35.04" stroke="#000" stroke-width="0.7"/><text x="378.40" y="38.04" text-anchor="end" font-size="6.5">1</text><line x1="382.70" y1="54.64" x2="380.30" y2="54.64" stroke="#000" stroke-width="0.7"/><text x="378.40" y="57.64" text-anchor="end" font-size="6.5">0</text><line x1="382.70" y1="74.25" x2="380.30" y2="74.25" stroke="#000" stroke-width="0.7"/><text x="378.40" y="77.25" text-anchor="end" font-size="6.5">−1</text><line x1="382.70" y1="93.85" x2="380.30" y2="93.85" stroke="#000" stroke-width="0.7"/><text x="378.40" y="96.85" text-anchor="end" font-size="6.5">−2</text><line x1="382.70" y1="113.46" x2="380.30" y2="113.46" stroke="#000" stroke-width="0.7"/><text x="378.40" y="116.46" text-anchor="end" font-size="6.5">−3</text><line x1="382.70" y1="133.06" x2="380.30" y2="133.06" stroke="#000" stroke-width="0.7"/><text x="378.40" y="136.06" text-anchor="end" font-size="6.5">−4</text><line x1="382.70" y1="152.67" x2="380.30" y2="152.67" stroke="#000" stroke-width="0.7"/><text x="378.40" y="155.67" text-anchor="end" font-size="6.5">−5</text><text x="512.65" y="6.20" text-anchor="middle" font-size="7.75">scaling factor</text><text x="512.65" y="185.40" text-anchor="middle" font-size="6.5" font-style="italic">τ</text><text transform="translate(365.20,88.50) rotate(-90)" text-anchor="middle" font-size="6.5">Log<tspan font-style="italic">ν</tspan></text><defs><linearGradient id="g2" x1="0" y1="1" x2="0" y2="0"><stop offset="0.0000" stop-color="#440154"/><stop offset="0.0312" stop-color="#470d60"/><stop offset="0.0625" stop-color="#48186a"/><stop offset="0.0938" stop-color="#482374"/><stop offset="0.1250" stop-color="#472d7b"/><stop offset="0.1562" stop-color="#453781"/><stop offset="0.1875" stop-color="#424086"/><stop offset="0.2188" stop-color="#3e4989"/><stop offset="0.2500" stop-color="#3b528b"/><stop offset="0.2812" stop-color="#375b8d"/><stop offset="0.3125" stop-color="#33638d"/><stop offset="0.3438" stop-color="#2f6b8e"/><stop offset="0.3750" stop-color="#2c728e"/><stop offset="0.4062" stop-color="#297a8e"/><stop offset="0.4375" stop-color="#26828e"/><stop offset="0.4688" stop-color="#23898e"/><stop offset="0.5000" stop-color="#21918c"/><stop offset="0.5312" stop-color="#1f988b"/><stop offset="0.5625" stop-color="#1fa088"/><stop offset="0.5938" stop-color="#22a785"/><stop offset="0.6250" stop-color="#28ae80"/><stop offset="0.6562" stop-color="#32b67a"/><stop offset="0.6875" stop-color="#3fbc73"/><stop offset="0.7188" stop-color="#4ec36b"/><stop offset="0.7500" stop-color="#5ec962"/><stop offset="0.7812" stop-color="#70cf57"/><stop offset="0.8125" stop-color="#84d44b"/><stop offset="0.8438" stop-color="#98d83e"/><stop offset="0.8750" stop-color="#addc30"/><stop offset="0.9062" stop-color="#c2df23"/><stop offset="0.9375" stop-color="#d8e219"/><stop offset="0.9688" stop-color="#ece51b"/><stop offset="1.0000" stop-color="#fde725"/></linearGradient></defs><rect x="658.70" y="9.50" width="8.10" height="158.00" fill="url(#g2)" stroke="#000" stroke-width="0.6"/><line x1="666.80" y1="156.26" x2="669.00" y2="156.26" stroke="#000" stroke-width="0.7"/><text x="671.60" y="158.86" font-size="6.5">0.25</text><line x1="666.80" y1="135.30" x2="669.00" y2="135.30" stroke="#000" stroke-width="0.7"/><text x="671.60" y="137.90" font-size="6.5">0.50</text><line x1="666.80" y1="114.33" x2="669.00" y2="114.33" stroke="#000" stroke-width="0.7"/><text x="671.60" y="116.93" font-size="6.5">0.75</text><line x1="666.80" y1="93.36" x2="669.00" y2="93.36" stroke="#000" stroke-width="0.7"/><text x="671.60" y="95.96" font-size="6.5">1.00</text><line x1="666.80" y1="72.40" x2="669.00" y2="72.40" stroke="#000" stroke-width="0.7"/><text x="671.60" y="75.00" font-size="6.5">1.25</text><line x1="666.80" y1="51.43" x2="669.00" y2="51.43" stroke="#000" stroke-width="0.7"/><text x="671.60" y="54.03" font-size="6.5">1.50</text><line x1="666.80" y1="30.47" x2="669.00" y2="30.47" stroke="#000" stroke-width="0.7"/><text x="671.60" y="33.07" font-size="6.5">1.75</text><line x1="666.80" y1="9.50" x2="669.00" y2="9.50" stroke="#000" stroke-width="0.7"/><text x="671.60" y="12.10" font-size="6.5">2.00</text><g clip-path="none"><rect x="382.70" y="199.30" width="14.88" height="9.50" fill="#440154"/><rect x="396.38" y="199.30" width="14.88" height="9.50" fill="#2a788e"/><rect x="410.06" y="199.30" width="14.88" height="9.50" fill="#22a884"/><rect x="423.74" y="199.30" width="14.88" height="9.50" fill="#22a884"/><rect x="437.42" y="199.30" width="14.88" height="9.50" fill="#22a884"/><rect x="451.09" y="199.30" width="14.88" height="9.50" fill="#7ad151"/><rect x="464.77" y="199.30" width="14.88" height="9.50" fill="#7ad151"/><rect x="478.45" y="199.30" width="14.88" height="9.50" fill="#fde725"/><rect x="492.13" y="199.30" width="14.88" height="9.50" fill="#7ad151"/><rect x="505.81" y="199.30" width="14.88" height="9.50" fill="#fde725"/><rect x="519.49" y="199.30" width="14.88" height="9.50" fill="#7ad151"/><rect x="533.17" y="199.30" width="14.88" height="9.50" fill="#7ad151"/><rect x="546.85" y="199.30" width="14.88" height="9.50" fill="#7ad151"/><rect x="560.53" y="199.30" width="14.88" height="9.50" fill="#fde725"/><rect x="574.21" y="199.30" width="14.88" height="9.50" fill="#fde725"/><rect x="587.88" y="199.30" width="14.88" height="9.50" fill="#fde725"/><rect x="601.56" y="199.30" width="14.88" height="9.50" fill="#fde725"/><rect x="615.24" y="199.30" width="14.88" height="9.50" fill="#fde725"/><rect x="628.92" y="199.30" width="13.68" height="9.50" fill="#fde725"/><rect x="382.70" y="207.60" width="14.88" height="9.50" fill="#440154"/><rect x="396.38" y="207.60" width="14.88" height="9.50" fill="#2a788e"/><rect x="410.06" y="207.60" width="14.88" height="9.50" fill="#2a788e"/><rect x="423.74" y="207.60" width="14.88" height="9.50" fill="#22a884"/><rect x="437.42" y="207.60" width="14.88" height="9.50" fill="#7ad151"/><rect x="451.09" y="207.60" width="14.88" height="9.50" fill="#7ad151"/><rect x="464.77" y="207.60" width="14.88" height="9.50" fill="#7ad151"/><rect x="478.45" y="207.60" width="14.88" height="9.50" fill="#7ad151"/><rect x="492.13" y="207.60" width="14.88" height="9.50" fill="#7ad151"/><rect x="505.81" y="207.60" width="14.88" height="9.50" fill="#fde725"/><rect x="519.49" y="207.60" width="14.88" height="9.50" fill="#7ad151"/><rect x="533.17" y="207.60" width="14.88" height="9.50" fill="#22a884"/><rect x="546.85" y="207.60" width="14.88" height="9.50" fill="#7ad151"/><rect x="560.53" y="207.60" width="14.88" height="9.50" fill="#7ad151"/><rect x="574.21" y="207.60" width="14.88" height="9.50" fill="#fde725"/><rect x="587.88" y="207.60" width="14.88" height="9.50" fill="#fde725"/><rect x="601.56" y="207.60" width="14.88" height="9.50" fill="#22a884"/><rect x="615.24" y="207.60" width="14.88" height="9.50" fill="#fde725"/><rect x="628.92" y="207.60" width="13.68" height="9.50" fill="#22a884"/><rect x="382.70" y="215.90" width="14.88" height="9.50" fill="#440154"/><rect x="396.38" y="215.90" width="14.88" height="9.50" fill="#2a788e"/><rect x="410.06" y="215.90" width="14.88" height="9.50" fill="#22a884"/><rect x="423.74" y="215.90" width="14.88" height="9.50" fill="#22a884"/><rect x="437.42" y="215.90" width="14.88" height="9.50" fill="#7ad151"/><rect x="451.09" y="215.90" width="14.88" height="9.50" fill="#7ad151"/><rect x="464.77" y="215.90" width="14.88" height="9.50" fill="#7ad151"/><rect x="478.45" y="215.90" width="14.88" height="9.50" fill="#fde725"/><rect x="492.13" y="215.90" width="14.88" height="9.50" fill="#fde725"/><rect x="505.81" y="215.90" width="14.88" height="9.50" fill="#fde725"/><rect x="519.49" y="215.90" width="14.88" height="9.50" fill="#fde725"/><rect x="533.17" y="215.90" width="14.88" height="9.50" fill="#fde725"/><rect x="546.85" y="215.90" width="14.88" height="9.50" fill="#7ad151"/><rect x="560.53" y="215.90" width="14.88" height="9.50" fill="#fde725"/><rect x="574.21" y="215.90" width="14.88" height="9.50" fill="#fde725"/><rect x="587.88" y="215.90" width="14.88" height="9.50" fill="#fde725"/><rect x="601.56" y="215.90" width="14.88" height="9.50" fill="#fde725"/><rect x="615.24" y="215.90" width="14.88" height="9.50" fill="#fde725"/><rect x="628.92" y="215.90" width="13.68" height="9.50" fill="#fde725"/><rect x="382.70" y="224.20" width="14.88" height="9.50" fill="#440154"/><rect x="396.38" y="224.20" width="14.88" height="9.50" fill="#414487"/><rect x="410.06" y="224.20" width="14.88" height="9.50" fill="#22a884"/><rect x="423.74" y="224.20" width="14.88" height="9.50" fill="#22a884"/><rect x="437.42" y="224.20" width="14.88" height="9.50" fill="#7ad151"/><rect x="451.09" y="224.20" width="14.88" height="9.50" fill="#7ad151"/><rect x="464.77" y="224.20" width="14.88" height="9.50" fill="#7ad151"/><rect x="478.45" y="224.20" width="14.88" height="9.50" fill="#fde725"/><rect x="492.13" y="224.20" width="14.88" height="9.50" fill="#fde725"/><rect x="505.81" y="224.20" width="14.88" height="9.50" fill="#fde725"/><rect x="519.49" y="224.20" width="14.88" height="9.50" fill="#fde725"/><rect x="533.17" y="224.20" width="14.88" height="9.50" fill="#fde725"/><rect x="546.85" y="224.20" width="14.88" height="9.50" fill="#fde725"/><rect x="560.53" y="224.20" width="14.88" height="9.50" fill="#fde725"/><rect x="574.21" y="224.20" width="14.88" height="9.50" fill="#fde725"/><rect x="587.88" y="224.20" width="14.88" height="9.50" fill="#fde725"/><rect x="601.56" y="224.20" width="14.88" height="9.50" fill="#fde725"/><rect x="615.24" y="224.20" width="14.88" height="9.50" fill="#fde725"/><rect x="628.92" y="224.20" width="13.68" height="9.50" fill="#fde725"/><rect x="382.70" y="232.50" width="14.88" height="9.50" fill="#440154"/><rect x="396.38" y="232.50" width="14.88" height="9.50" fill="#414487"/><rect x="410.06" y="232.50" width="14.88" height="9.50" fill="#2a788e"/><rect x="423.74" y="232.50" width="14.88" height="9.50" fill="#22a884"/><rect x="437.42" y="232.50" width="14.88" height="9.50" fill="#7ad151"/><rect x="451.09" y="232.50" width="14.88" height="9.50" fill="#7ad151"/><rect x="464.77" y="232.50" width="14.88" height="9.50" fill="#fde725"/><rect x="478.45" y="232.50" width="14.88" height="9.50" fill="#7ad151"/><rect x="492.13" y="232.50" width="14.88" height="9.50" fill="#fde725"/><rect x="505.81" y="232.50" width="14.88" height="9.50" fill="#7ad151"/><rect x="519.49" y="232.50" width="14.88" height="9.50" fill="#fde725"/><rect x="533.17" y="232.50" width="14.88" height="9.50" fill="#fde725"/><rect x="546.85" y="232.50" width="14.88" height="9.50" fill="#fde725"/><rect x="560.53" y="232.50" width="14.88" height="9.50" fill="#fde725"/><rect x="574.21" y="232.50" width="14.88" height="9.50" fill="#fde725"/><rect x="587.88" y="232.50" width="14.88" height="9.50" fill="#fde725"/><rect x="601.56" y="232.50" width="14.88" height="9.50" fill="#fde725"/><rect x="615.24" y="232.50" width="14.88" height="9.50" fill="#fde725"/><rect x="628.92" y="232.50" width="13.68" height="9.50" fill="#fde725"/><rect x="382.70" y="240.80" width="14.88" height="9.50" fill="#440154"/><rect x="396.38" y="240.80" width="14.88" height="9.50" fill="#414487"/><rect x="410.06" y="240.80" width="14.88" height="9.50" fill="#22a884"/><rect x="423.74" y="240.80" width="14.88" height="9.50" fill="#22a884"/><rect x="437.42" y="240.80" width="14.88" height="9.50" fill="#7ad151"/><rect x="451.09" y="240.80" width="14.88" height="9.50" fill="#7ad151"/><rect x="464.77" y="240.80" width="14.88" height="9.50" fill="#7ad151"/><rect x="478.45" y="240.80" width="14.88" height="9.50" fill="#7ad151"/><rect x="492.13" y="240.80" width="14.88" height="9.50" fill="#7ad151"/><rect x="505.81" y="240.80" width="14.88" height="9.50" fill="#fde725"/><rect x="519.49" y="240.80" width="14.88" height="9.50" fill="#fde725"/><rect x="533.17" y="240.80" width="14.88" height="9.50" fill="#fde725"/><rect x="546.85" y="240.80" width="14.88" height="9.50" fill="#fde725"/><rect x="560.53" y="240.80" width="14.88" height="9.50" fill="#fde725"/><rect x="574.21" y="240.80" width="14.88" height="9.50" fill="#fde725"/><rect x="587.88" y="240.80" width="14.88" height="9.50" fill="#fde725"/><rect x="601.56" y="240.80" width="14.88" height="9.50" fill="#fde725"/><rect x="615.24" y="240.80" width="14.88" height="9.50" fill="#fde725"/><rect x="628.92" y="240.80" width="13.68" height="9.50" fill="#fde725"/><rect x="382.70" y="249.10" width="14.88" height="9.50" fill="#440154"/><rect x="396.38" y="249.10" width="14.88" height="9.50" fill="#2a788e"/><rect x="410.06" y="249.10" width="14.88" height="9.50" fill="#7ad151"/><rect x="423.74" y="249.10" width="14.88" height="9.50" fill="#22a884"/><rect x="437.42" y="249.10" width="14.88" height="9.50" fill="#7ad151"/><rect x="451.09" y="249.10" width="14.88" height="9.50" fill="#22a884"/><rect x="464.77" y="249.10" width="14.88" height="9.50" fill="#7ad151"/><rect x="478.45" y="249.10" width="14.88" height="9.50" fill="#7ad151"/><rect x="492.13" y="249.10" width="14.88" height="9.50" fill="#7ad151"/><rect x="505.81" y="249.10" width="14.88" height="9.50" fill="#7ad151"/><rect x="519.49" y="249.10" width="14.88" height="9.50" fill="#fde725"/><rect x="533.17" y="249.10" width="14.88" height="9.50" fill="#fde725"/><rect x="546.85" y="249.10" width="14.88" height="9.50" fill="#fde725"/><rect x="560.53" y="249.10" width="14.88" height="9.50" fill="#fde725"/><rect x="574.21" y="249.10" width="14.88" height="9.50" fill="#fde725"/><rect x="587.88" y="249.10" width="14.88" height="9.50" fill="#fde725"/><rect x="601.56" y="249.10" width="14.88" height="9.50" fill="#fde725"/><rect x="615.24" y="249.10" width="14.88" height="9.50" fill="#fde725"/><rect x="628.92" y="249.10" width="13.68" height="9.50" fill="#fde725"/><rect x="382.70" y="257.40" width="14.88" height="9.50" fill="#440154"/><rect x="396.38" y="257.40" width="14.88" height="9.50" fill="#414487"/><rect x="410.06" y="257.40" width="14.88" height="9.50" fill="#2a788e"/><rect x="423.74" y="257.40" width="14.88" height="9.50" fill="#22a884"/><rect x="437.42" y="257.40" width="14.88" height="9.50" fill="#7ad151"/><rect x="451.09" y="257.40" width="14.88" height="9.50" fill="#7ad151"/><rect x="464.77" y="257.40" width="14.88" height="9.50" fill="#7ad151"/><rect x="478.45" y="257.40" width="14.88" height="9.50" fill="#7ad151"/><rect x="492.13" y="257.40" width="14.88" height="9.50" fill="#7ad151"/><rect x="505.81" y="257.40" width="14.88" height="9.50" fill="#fde725"/><rect x="519.49" y="257.40" width="14.88" height="9.50" fill="#7ad151"/><rect x="533.17" y="257.40" width="14.88" height="9.50" fill="#7ad151"/><rect x="546.85" y="257.40" width="14.88" height="9.50" fill="#fde725"/><rect x="560.53" y="257.40" width="14.88" height="9.50" fill="#fde725"/><rect x="574.21" y="257.40" width="14.88" height="9.50" fill="#fde725"/><rect x="587.88" y="257.40" width="14.88" height="9.50" fill="#fde725"/><rect x="601.56" y="257.40" width="14.88" height="9.50" fill="#fde725"/><rect x="615.24" y="257.40" width="14.88" height="9.50" fill="#fde725"/><rect x="628.92" y="257.40" width="13.68" height="9.50" fill="#fde725"/><rect x="382.70" y="265.70" width="14.88" height="9.50" fill="#440154"/><rect x="396.38" y="265.70" width="14.88" height="9.50" fill="#414487"/><rect x="410.06" y="265.70" width="14.88" height="9.50" fill="#2a788e"/><rect x="423.74" y="265.70" width="14.88" height="9.50" fill="#22a884"/><rect x="437.42" y="265.70" width="14.88" height="9.50" fill="#22a884"/><rect x="451.09" y="265.70" width="14.88" height="9.50" fill="#7ad151"/><rect x="464.77" y="265.70" width="14.88" height="9.50" fill="#7ad151"/><rect x="478.45" y="265.70" width="14.88" height="9.50" fill="#7ad151"/><rect x="492.13" y="265.70" width="14.88" height="9.50" fill="#7ad151"/><rect x="505.81" y="265.70" width="14.88" height="9.50" fill="#7ad151"/><rect x="519.49" y="265.70" width="14.88" height="9.50" fill="#fde725"/><rect x="533.17" y="265.70" width="14.88" height="9.50" fill="#fde725"/><rect x="546.85" y="265.70" width="14.88" height="9.50" fill="#fde725"/><rect x="560.53" y="265.70" width="14.88" height="9.50" fill="#fde725"/><rect x="574.21" y="265.70" width="14.88" height="9.50" fill="#fde725"/><rect x="587.88" y="265.70" width="14.88" height="9.50" fill="#fde725"/><rect x="601.56" y="265.70" width="14.88" height="9.50" fill="#fde725"/><rect x="615.24" y="265.70" width="14.88" height="9.50" fill="#fde725"/><rect x="628.92" y="265.70" width="13.68" height="9.50" fill="#fde725"/><rect x="382.70" y="274.00" width="14.88" height="9.50" fill="#440154"/><rect x="396.38" y="274.00" width="14.88" height="9.50" fill="#440154"/><rect x="410.06" y="274.00" width="14.88" height="9.50" fill="#2a788e"/><rect x="423.74" y="274.00" width="14.88" height="9.50" fill="#22a884"/><rect x="437.42" y="274.00" width="14.88" height="9.50" fill="#22a884"/><rect x="451.09" y="274.00" width="14.88" height="9.50" fill="#7ad151"/><rect x="464.77" y="274.00" width="14.88" height="9.50" fill="#7ad151"/><rect x="478.45" y="274.00" width="14.88" height="9.50" fill="#7ad151"/><rect x="492.13" y="274.00" width="14.88" height="9.50" fill="#fde725"/><rect x="505.81" y="274.00" width="14.88" height="9.50" fill="#fde725"/><rect x="519.49" y="274.00" width="14.88" height="9.50" fill="#7ad151"/><rect x="533.17" y="274.00" width="14.88" height="9.50" fill="#fde725"/><rect x="546.85" y="274.00" width="14.88" height="9.50" fill="#fde725"/><rect x="560.53" y="274.00" width="14.88" height="9.50" fill="#fde725"/><rect x="574.21" y="274.00" width="14.88" height="9.50" fill="#fde725"/><rect x="587.88" y="274.00" width="14.88" height="9.50" fill="#fde725"/><rect x="601.56" y="274.00" width="14.88" height="9.50" fill="#fde725"/><rect x="615.24" y="274.00" width="14.88" height="9.50" fill="#fde725"/><rect x="628.92" y="274.00" width="13.68" height="9.50" fill="#fde725"/><rect x="382.70" y="282.30" width="14.88" height="9.50" fill="#440154"/><rect x="396.38" y="282.30" width="14.88" height="9.50" fill="#414487"/><rect x="410.06" y="282.30" width="14.88" height="9.50" fill="#414487"/><rect x="423.74" y="282.30" width="14.88" height="9.50" fill="#22a884"/><rect x="437.42" y="282.30" width="14.88" height="9.50" fill="#7ad151"/><rect x="451.09" y="282.30" width="14.88" height="9.50" fill="#7ad151"/><rect x="464.77" y="282.30" width="14.88" height="9.50" fill="#7ad151"/><rect x="478.45" y="282.30" width="14.88" height="9.50" fill="#7ad151"/><rect x="492.13" y="282.30" width="14.88" height="9.50" fill="#7ad151"/><rect x="505.81" y="282.30" width="14.88" height="9.50" fill="#fde725"/><rect x="519.49" y="282.30" width="14.88" height="9.50" fill="#fde725"/><rect x="533.17" y="282.30" width="14.88" height="9.50" fill="#fde725"/><rect x="546.85" y="282.30" width="14.88" height="9.50" fill="#fde725"/><rect x="560.53" y="282.30" width="14.88" height="9.50" fill="#fde725"/><rect x="574.21" y="282.30" width="14.88" height="9.50" fill="#fde725"/><rect x="587.88" y="282.30" width="14.88" height="9.50" fill="#fde725"/><rect x="601.56" y="282.30" width="14.88" height="9.50" fill="#fde725"/><rect x="615.24" y="282.30" width="14.88" height="9.50" fill="#fde725"/><rect x="628.92" y="282.30" width="13.68" height="9.50" fill="#fde725"/><rect x="382.70" y="290.60" width="14.88" height="9.50" fill="#414487"/><rect x="396.38" y="290.60" width="14.88" height="9.50" fill="#440154"/><rect x="410.06" y="290.60" width="14.88" height="9.50" fill="#2a788e"/><rect x="423.74" y="290.60" width="14.88" height="9.50" fill="#22a884"/><rect x="437.42" y="290.60" width="14.88" height="9.50" fill="#22a884"/><rect x="451.09" y="290.60" width="14.88" height="9.50" fill="#7ad151"/><rect x="464.77" y="290.60" width="14.88" height="9.50" fill="#22a884"/><rect x="478.45" y="290.60" width="14.88" height="9.50" fill="#7ad151"/><rect x="492.13" y="290.60" width="14.88" height="9.50" fill="#7ad151"/><rect x="505.81" y="290.60" width="14.88" height="9.50" fill="#fde725"/><rect x="519.49" y="290.60" width="14.88" height="9.50" fill="#fde725"/><rect x="533.17" y="290.60" width="14.88" height="9.50" fill="#fde725"/><rect x="546.85" y="290.60" width="14.88" height="9.50" fill="#fde725"/><rect x="560.53" y="290.60" width="14.88" height="9.50" fill="#7ad151"/><rect x="574.21" y="290.60" width="14.88" height="9.50" fill="#fde725"/><rect x="587.88" y="290.60" width="14.88" height="9.50" fill="#fde725"/><rect x="601.56" y="290.60" width="14.88" height="9.50" fill="#fde725"/><rect x="615.24" y="290.60" width="14.88" height="9.50" fill="#fde725"/><rect x="628.92" y="290.60" width="13.68" height="9.50" fill="#fde725"/><rect x="382.70" y="298.90" width="14.88" height="9.50" fill="#440154"/><rect x="396.38" y="298.90" width="14.88" height="9.50" fill="#414487"/><rect x="410.06" y="298.90" width="14.88" height="9.50" fill="#2a788e"/><rect x="423.74" y="298.90" width="14.88" height="9.50" fill="#7ad151"/><rect x="437.42" y="298.90" width="14.88" height="9.50" fill="#22a884"/><rect x="451.09" y="298.90" width="14.88" height="9.50" fill="#7ad151"/><rect x="464.77" y="298.90" width="14.88" height="9.50" fill="#7ad151"/><rect x="478.45" y="298.90" width="14.88" height="9.50" fill="#7ad151"/><rect x="492.13" y="298.90" width="14.88" height="9.50" fill="#7ad151"/><rect x="505.81" y="298.90" width="14.88" height="9.50" fill="#7ad151"/><rect x="519.49" y="298.90" width="14.88" height="9.50" fill="#fde725"/><rect x="533.17" y="298.90" width="14.88" height="9.50" fill="#fde725"/><rect x="546.85" y="298.90" width="14.88" height="9.50" fill="#fde725"/><rect x="560.53" y="298.90" width="14.88" height="9.50" fill="#fde725"/><rect x="574.21" y="298.90" width="14.88" height="9.50" fill="#fde725"/><rect x="587.88" y="298.90" width="14.88" height="9.50" fill="#fde725"/><rect x="601.56" y="298.90" width="14.88" height="9.50" fill="#fde725"/><rect x="615.24" y="298.90" width="14.88" height="9.50" fill="#fde725"/><rect x="628.92" y="298.90" width="13.68" height="9.50" fill="#fde725"/><rect x="382.70" y="307.20" width="14.88" height="9.50" fill="#414487"/><rect x="396.38" y="307.20" width="14.88" height="9.50" fill="#414487"/><rect x="410.06" y="307.20" width="14.88" height="9.50" fill="#2a788e"/><rect x="423.74" y="307.20" width="14.88" height="9.50" fill="#22a884"/><rect x="437.42" y="307.20" width="14.88" height="9.50" fill="#22a884"/><rect x="451.09" y="307.20" width="14.88" height="9.50" fill="#7ad151"/><rect x="464.77" y="307.20" width="14.88" height="9.50" fill="#7ad151"/><rect x="478.45" y="307.20" width="14.88" height="9.50" fill="#7ad151"/><rect x="492.13" y="307.20" width="14.88" height="9.50" fill="#7ad151"/><rect x="505.81" y="307.20" width="14.88" height="9.50" fill="#7ad151"/><rect x="519.49" y="307.20" width="14.88" height="9.50" fill="#7ad151"/><rect x="533.17" y="307.20" width="14.88" height="9.50" fill="#fde725"/><rect x="546.85" y="307.20" width="14.88" height="9.50" fill="#fde725"/><rect x="560.53" y="307.20" width="14.88" height="9.50" fill="#fde725"/><rect x="574.21" y="307.20" width="14.88" height="9.50" fill="#fde725"/><rect x="587.88" y="307.20" width="14.88" height="9.50" fill="#fde725"/><rect x="601.56" y="307.20" width="14.88" height="9.50" fill="#fde725"/><rect x="615.24" y="307.20" width="14.88" height="9.50" fill="#fde725"/><rect x="628.92" y="307.20" width="13.68" height="9.50" fill="#fde725"/><rect x="382.70" y="315.50" width="14.88" height="9.50" fill="#414487"/><rect x="396.38" y="315.50" width="14.88" height="9.50" fill="#440154"/><rect x="410.06" y="315.50" width="14.88" height="9.50" fill="#22a884"/><rect x="423.74" y="315.50" width="14.88" height="9.50" fill="#7ad151"/><rect x="437.42" y="315.50" width="14.88" height="9.50" fill="#22a884"/><rect x="451.09" y="315.50" width="14.88" height="9.50" fill="#7ad151"/><rect x="464.77" y="315.50" width="14.88" height="9.50" fill="#7ad151"/><rect x="478.45" y="315.50" width="14.88" height="9.50" fill="#7ad151"/><rect x="492.13" y="315.50" width="14.88" height="9.50" fill="#7ad151"/><rect x="505.81" y="315.50" width="14.88" height="9.50" fill="#7ad151"/><rect x="519.49" y="315.50" width="14.88" height="9.50" fill="#7ad151"/><rect x="533.17" y="315.50" width="14.88" height="9.50" fill="#fde725"/><rect x="546.85" y="315.50" width="14.88" height="9.50" fill="#fde725"/><rect x="560.53" y="315.50" width="14.88" height="9.50" fill="#fde725"/><rect x="574.21" y="315.50" width="14.88" height="9.50" fill="#fde725"/><rect x="587.88" y="315.50" width="14.88" height="9.50" fill="#fde725"/><rect x="601.56" y="315.50" width="14.88" height="9.50" fill="#fde725"/><rect x="615.24" y="315.50" width="14.88" height="9.50" fill="#fde725"/><rect x="628.92" y="315.50" width="13.68" height="9.50" fill="#fde725"/><rect x="382.70" y="323.80" width="14.88" height="9.50" fill="#440154"/><rect x="396.38" y="323.80" width="14.88" height="9.50" fill="#2a788e"/><rect x="410.06" y="323.80" width="14.88" height="9.50" fill="#414487"/><rect x="423.74" y="323.80" width="14.88" height="9.50" fill="#2a788e"/><rect x="437.42" y="323.80" width="14.88" height="9.50" fill="#7ad151"/><rect x="451.09" y="323.80" width="14.88" height="9.50" fill="#22a884"/><rect x="464.77" y="323.80" width="14.88" height="9.50" fill="#7ad151"/><rect x="478.45" y="323.80" width="14.88" height="9.50" fill="#7ad151"/><rect x="492.13" y="323.80" width="14.88" height="9.50" fill="#7ad151"/><rect x="505.81" y="323.80" width="14.88" height="9.50" fill="#7ad151"/><rect x="519.49" y="323.80" width="14.88" height="9.50" fill="#fde725"/><rect x="533.17" y="323.80" width="14.88" height="9.50" fill="#fde725"/><rect x="546.85" y="323.80" width="14.88" height="9.50" fill="#fde725"/><rect x="560.53" y="323.80" width="14.88" height="9.50" fill="#fde725"/><rect x="574.21" y="323.80" width="14.88" height="9.50" fill="#fde725"/><rect x="587.88" y="323.80" width="14.88" height="9.50" fill="#fde725"/><rect x="601.56" y="323.80" width="14.88" height="9.50" fill="#fde725"/><rect x="615.24" y="323.80" width="14.88" height="9.50" fill="#fde725"/><rect x="628.92" y="323.80" width="13.68" height="9.50" fill="#fde725"/><rect x="382.70" y="332.10" width="14.88" height="9.50" fill="#414487"/><rect x="396.38" y="332.10" width="14.88" height="9.50" fill="#2a788e"/><rect x="410.06" y="332.10" width="14.88" height="9.50" fill="#22a884"/><rect x="423.74" y="332.10" width="14.88" height="9.50" fill="#2a788e"/><rect x="437.42" y="332.10" width="14.88" height="9.50" fill="#22a884"/><rect x="451.09" y="332.10" width="14.88" height="9.50" fill="#7ad151"/><rect x="464.77" y="332.10" width="14.88" height="9.50" fill="#7ad151"/><rect x="478.45" y="332.10" width="14.88" height="9.50" fill="#7ad151"/><rect x="492.13" y="332.10" width="14.88" height="9.50" fill="#fde725"/><rect x="505.81" y="332.10" width="14.88" height="9.50" fill="#7ad151"/><rect x="519.49" y="332.10" width="14.88" height="9.50" fill="#fde725"/><rect x="533.17" y="332.10" width="14.88" height="9.50" fill="#fde725"/><rect x="546.85" y="332.10" width="14.88" height="9.50" fill="#fde725"/><rect x="560.53" y="332.10" width="14.88" height="9.50" fill="#fde725"/><rect x="574.21" y="332.10" width="14.88" height="9.50" fill="#fde725"/><rect x="587.88" y="332.10" width="14.88" height="9.50" fill="#fde725"/><rect x="601.56" y="332.10" width="14.88" height="9.50" fill="#fde725"/><rect x="615.24" y="332.10" width="14.88" height="9.50" fill="#fde725"/><rect x="628.92" y="332.10" width="13.68" height="9.50" fill="#fde725"/><rect x="382.70" y="340.40" width="14.88" height="9.50" fill="#440154"/><rect x="396.38" y="340.40" width="14.88" height="9.50" fill="#414487"/><rect x="410.06" y="340.40" width="14.88" height="9.50" fill="#2a788e"/><rect x="423.74" y="340.40" width="14.88" height="9.50" fill="#22a884"/><rect x="437.42" y="340.40" width="14.88" height="9.50" fill="#22a884"/><rect x="451.09" y="340.40" width="14.88" height="9.50" fill="#22a884"/><rect x="464.77" y="340.40" width="14.88" height="9.50" fill="#7ad151"/><rect x="478.45" y="340.40" width="14.88" height="9.50" fill="#7ad151"/><rect x="492.13" y="340.40" width="14.88" height="9.50" fill="#7ad151"/><rect x="505.81" y="340.40" width="14.88" height="9.50" fill="#7ad151"/><rect x="519.49" y="340.40" width="14.88" height="9.50" fill="#fde725"/><rect x="533.17" y="340.40" width="14.88" height="9.50" fill="#fde725"/><rect x="546.85" y="340.40" width="14.88" height="9.50" fill="#fde725"/><rect x="560.53" y="340.40" width="14.88" height="9.50" fill="#fde725"/><rect x="574.21" y="340.40" width="14.88" height="9.50" fill="#fde725"/><rect x="587.88" y="340.40" width="14.88" height="9.50" fill="#fde725"/><rect x="601.56" y="340.40" width="14.88" height="9.50" fill="#fde725"/><rect x="615.24" y="340.40" width="14.88" height="9.50" fill="#fde725"/><rect x="628.92" y="340.40" width="13.68" height="9.50" fill="#fde725"/><rect x="382.70" y="348.70" width="14.88" height="8.30" fill="#440154"/><rect x="396.38" y="348.70" width="14.88" height="8.30" fill="#414487"/><rect x="410.06" y="348.70" width="14.88" height="8.30" fill="#414487"/><rect x="423.74" y="348.70" width="14.88" height="8.30" fill="#2a788e"/><rect x="437.42" y="348.70" width="14.88" height="8.30" fill="#22a884"/><rect x="451.09" y="348.70" width="14.88" height="8.30" fill="#7ad151"/><rect x="464.77" y="348.70" width="14.88" height="8.30" fill="#7ad151"/><rect x="478.45" y="348.70" width="14.88" height="8.30" fill="#7ad151"/><rect x="492.13" y="348.70" width="14.88" height="8.30" fill="#7ad151"/><rect x="505.81" y="348.70" width="14.88" height="8.30" fill="#7ad151"/><rect x="519.49" y="348.70" width="14.88" height="8.30" fill="#fde725"/><rect x="533.17" y="348.70" width="14.88" height="8.30" fill="#7ad151"/><rect x="546.85" y="348.70" width="14.88" height="8.30" fill="#fde725"/><rect x="560.53" y="348.70" width="14.88" height="8.30" fill="#fde725"/><rect x="574.21" y="348.70" width="14.88" height="8.30" fill="#fde725"/><rect x="587.88" y="348.70" width="14.88" height="8.30" fill="#fde725"/><rect x="601.56" y="348.70" width="14.88" height="8.30" fill="#fde725"/><rect x="615.24" y="348.70" width="14.88" height="8.30" fill="#fde725"/><rect x="628.92" y="348.70" width="13.68" height="8.30" fill="#fde725"/></g><rect x="382.70" y="199.30" width="259.90" height="157.70" fill="none" stroke="#000" stroke-width="0.6"/><line x1="382.70" y1="357.00" x2="382.70" y2="359.40" stroke="#000" stroke-width="0.7"/><text x="382.70" y="367.00" text-anchor="middle" font-size="6.5">0.0</text><line x1="416.90" y1="357.00" x2="416.90" y2="359.40" stroke="#000" stroke-width="0.7"/><text x="416.90" y="367.00" text-anchor="middle" font-size="6.5">2.5</text><line x1="451.09" y1="357.00" x2="451.09" y2="359.40" stroke="#000" stroke-width="0.7"/><text x="451.09" y="367.00" text-anchor="middle" font-size="6.5">5.0</text><line x1="485.29" y1="357.00" x2="485.29" y2="359.40" stroke="#000" stroke-width="0.7"/><text x="485.29" y="367.00" text-anchor="middle" font-size="6.5">7.5</text><line x1="519.49" y1="357.00" x2="519.49" y2="359.40" stroke="#000" stroke-width="0.7"/><text x="519.49" y="367.00" text-anchor="middle" font-size="6.5">10.0</text><line x1="553.69" y1="357.00" x2="553.69" y2="359.40" stroke="#000" stroke-width="0.7"/><text x="553.69" y="367.00" text-anchor="middle" font-size="6.5">12.5</text><line x1="587.88" y1="357.00" x2="587.88" y2="359.40" stroke="#000" stroke-width="0.7"/><text x="587.88" y="367.00" text-anchor="middle" font-size="6.5">15.0</text><line x1="622.08" y1="357.00" x2="622.08" y2="359.40" stroke="#000" stroke-width="0.7"/><text x="622.08" y="367.00" text-anchor="middle" font-size="6.5">17.5</text><line x1="382.70" y1="205.22" x2="380.30" y2="205.22" stroke="#000" stroke-width="0.7"/><text x="378.40" y="208.22" text-anchor="end" font-size="6.5">2</text><line x1="382.70" y1="224.79" x2="380.30" y2="224.79" stroke="#000" stroke-width="0.7"/><text x="378.40" y="227.79" text-anchor="end" font-size="6.5">1</text><line x1="382.70" y1="244.36" x2="380.30" y2="244.36" stroke="#000" stroke-width="0.7"/><text x="378.40" y="247.36" text-anchor="end" font-size="6.5">0</text><line x1="382.70" y1="263.93" x2="380.30" y2="263.93" stroke="#000" stroke-width="0.7"/><text x="378.40" y="266.93" text-anchor="end" font-size="6.5">−1</text><line x1="382.70" y1="283.49" x2="380.30" y2="283.49" stroke="#000" stroke-width="0.7"/><text x="378.40" y="286.49" text-anchor="end" font-size="6.5">−2</text><line x1="382.70" y1="303.06" x2="380.30" y2="303.06" stroke="#000" stroke-width="0.7"/><text x="378.40" y="306.06" text-anchor="end" font-size="6.5">−3</text><line x1="382.70" y1="322.63" x2="380.30" y2="322.63" stroke="#000" stroke-width="0.7"/><text x="378.40" y="325.63" text-anchor="end" font-size="6.5">−4</text><line x1="382.70" y1="342.20" x2="380.30" y2="342.20" stroke="#000" stroke-width="0.7"/><text x="378.40" y="345.20" text-anchor="end" font-size="6.5">−5</text><text x="512.65" y="196.00" text-anchor="middle" font-size="7.75">spectral radius</text><text x="512.65" y="374.90" text-anchor="middle" font-size="6.5" font-style="italic">τ</text><text transform="translate(365.20,278.15) rotate(-90)" text-anchor="middle" font-size="6.5">Log<tspan font-style="italic">ν</tspan></text><defs><linearGradient id="g3" x1="0" y1="1" x2="0" y2="0"><stop offset="0.0000" stop-color="#440154"/><stop offset="0.0312" stop-color="#470d60"/><stop offset="0.0625" stop-color="#48186a"/><stop offset="0.0938" stop-color="#482374"/><stop offset="0.1250" stop-color="#472d7b"/><stop offset="0.1562" stop-color="#453781"/><stop offset="0.1875" stop-color="#424086"/><stop offset="0.2188" stop-color="#3e4989"/><stop offset="0.2500" stop-color="#3b528b"/><stop offset="0.2812" stop-color="#375b8d"/><stop offset="0.3125" stop-color="#33638d"/><stop offset="0.3438" stop-color="#2f6b8e"/><stop offset="0.3750" stop-color="#2c728e"/><stop offset="0.4062" stop-color="#297a8e"/><stop offset="0.4375" stop-color="#26828e"/><stop offset="0.4688" stop-color="#23898e"/><stop offset="0.5000" stop-color="#21918c"/><stop offset="0.5312" stop-color="#1f988b"/><stop offset="0.5625" stop-color="#1fa088"/><stop offset="0.5938" stop-color="#22a785"/><stop offset="0.6250" stop-color="#28ae80"/><stop offset="0.6562" stop-color="#32b67a"/><stop offset="0.6875" stop-color="#3fbc73"/><stop offset="0.7188" stop-color="#4ec36b"/><stop offset="0.7500" stop-color="#5ec962"/><stop offset="0.7812" stop-color="#70cf57"/><stop offset="0.8125" stop-color="#84d44b"/><stop offset="0.8438" stop-color="#98d83e"/><stop offset="0.8750" stop-color="#addc30"/><stop offset="0.9062" stop-color="#c2df23"/><stop offset="0.9375" stop-color="#d8e219"/><stop offset="0.9688" stop-color="#ece51b"/><stop offset="1.0000" stop-color="#fde725"/></linearGradient></defs><rect x="658.70" y="199.30" width="8.10" height="157.70" fill="url(#g3)" stroke="#000" stroke-width="0.6"/><line x1="666.80" y1="357.00" x2="669.00" y2="357.00" stroke="#000" stroke-width="0.7"/><text x="671.60" y="359.60" font-size="6.5">0.2</text><line x1="666.80" y1="335.54" x2="669.00" y2="335.54" stroke="#000" stroke-width="0.7"/><text x="671.60" y="338.14" font-size="6.5">0.3</text><line x1="666.80" y1="314.09" x2="669.00" y2="314.09" stroke="#000" stroke-width="0.7"/><text x="671.60" y="316.69" font-size="6.5">0.4</text><line x1="666.80" y1="292.63" x2="669.00" y2="292.63" stroke="#000" stroke-width="0.7"/><text x="671.60" y="295.23" font-size="6.5">0.5</text><line x1="666.80" y1="271.18" x2="669.00" y2="271.18" stroke="#000" stroke-width="0.7"/><text x="671.60" y="273.78" font-size="6.5">0.6</text><line x1="666.80" y1="249.72" x2="669.00" y2="249.72" stroke="#000" stroke-width="0.7"/><text x="671.60" y="252.32" font-size="6.5">0.7</text><line x1="666.80" y1="228.27" x2="669.00" y2="228.27" stroke="#000" stroke-width="0.7"/><text x="671.60" y="230.87" font-size="6.5">0.8</text><line x1="666.80" y1="206.81" x2="669.00" y2="206.81" stroke="#000" stroke-width="0.7"/><text x="671.60" y="209.41" font-size="6.5">0.9</text>
</svg>
</body></html>
